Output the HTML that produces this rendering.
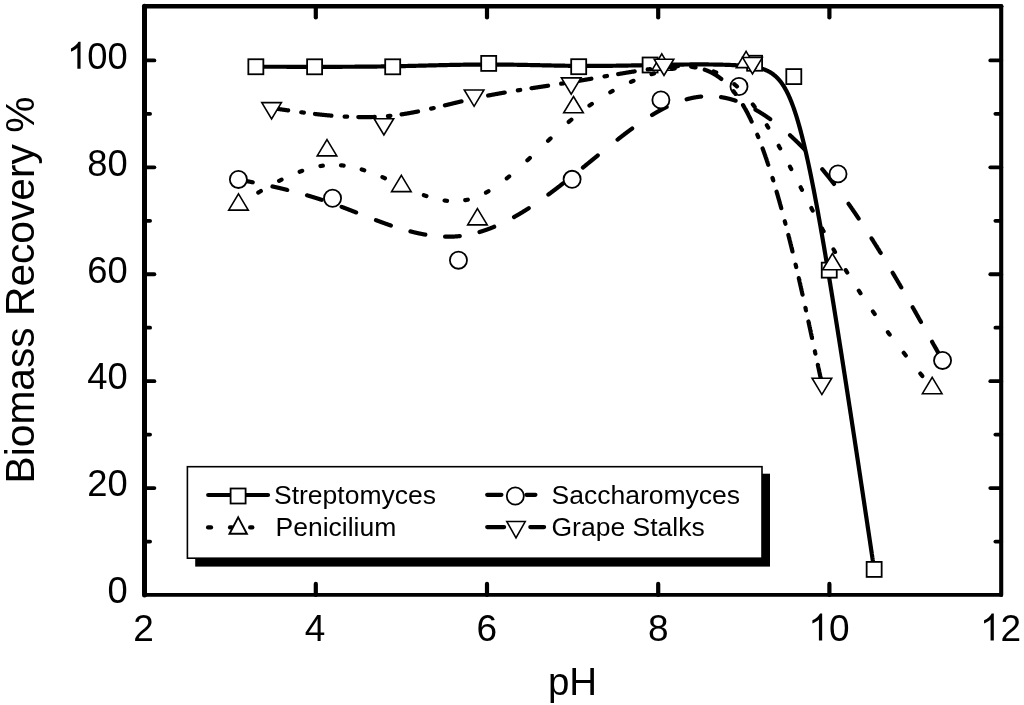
<!DOCTYPE html>
<html><head><meta charset="utf-8"><style>
html,body{margin:0;padding:0;background:#fff;overflow:hidden;}
text{font-family:"Liberation Sans",sans-serif;}
svg{display:block;filter:grayscale(1);}
.mk{fill:#fff;stroke:#000;stroke-width:1.8;stroke-linejoin:miter;}
.tr{stroke-width:1.6;}
</style></head><body>
<svg width="1024" height="705" viewBox="0 0 1024 705">
<rect width="1024" height="705" fill="#fff"/>
<g stroke="#000" stroke-linecap="round" fill="none">
<line x1="144.5" y1="541.54" x2="150.10" y2="541.54" stroke-width="3.8"/>
<line x1="1001.2" y1="541.54" x2="995.40" y2="541.54" stroke-width="3.8"/>
<line x1="144.5" y1="488.08" x2="154.40" y2="488.08" stroke-width="3.8"/>
<line x1="1001.2" y1="488.08" x2="990.30" y2="488.08" stroke-width="3.8"/>
<line x1="144.5" y1="434.62" x2="150.10" y2="434.62" stroke-width="3.8"/>
<line x1="1001.2" y1="434.62" x2="995.40" y2="434.62" stroke-width="3.8"/>
<line x1="144.5" y1="381.16" x2="154.40" y2="381.16" stroke-width="3.8"/>
<line x1="1001.2" y1="381.16" x2="990.30" y2="381.16" stroke-width="3.8"/>
<line x1="144.5" y1="327.70" x2="150.10" y2="327.70" stroke-width="3.8"/>
<line x1="1001.2" y1="327.70" x2="995.40" y2="327.70" stroke-width="3.8"/>
<line x1="144.5" y1="274.24" x2="154.40" y2="274.24" stroke-width="3.8"/>
<line x1="1001.2" y1="274.24" x2="990.30" y2="274.24" stroke-width="3.8"/>
<line x1="144.5" y1="220.78" x2="150.10" y2="220.78" stroke-width="3.8"/>
<line x1="1001.2" y1="220.78" x2="995.40" y2="220.78" stroke-width="3.8"/>
<line x1="144.5" y1="167.32" x2="154.40" y2="167.32" stroke-width="3.8"/>
<line x1="1001.2" y1="167.32" x2="990.30" y2="167.32" stroke-width="3.8"/>
<line x1="144.5" y1="113.86" x2="150.10" y2="113.86" stroke-width="3.8"/>
<line x1="1001.2" y1="113.86" x2="995.40" y2="113.86" stroke-width="3.8"/>
<line x1="144.5" y1="60.40" x2="154.40" y2="60.40" stroke-width="3.8"/>
<line x1="1001.2" y1="60.40" x2="990.30" y2="60.40" stroke-width="3.8"/>
<line x1="315.80" y1="595" x2="315.80" y2="583.90" stroke-width="4.2"/>
<line x1="315.80" y1="6.2" x2="315.80" y2="17.50" stroke-width="4.2"/>
<line x1="487.00" y1="595" x2="487.00" y2="583.90" stroke-width="4.2"/>
<line x1="487.00" y1="6.2" x2="487.00" y2="17.50" stroke-width="4.2"/>
<line x1="658.20" y1="595" x2="658.20" y2="583.90" stroke-width="4.2"/>
<line x1="658.20" y1="6.2" x2="658.20" y2="17.50" stroke-width="4.2"/>
<line x1="829.40" y1="595" x2="829.40" y2="583.90" stroke-width="4.2"/>
<line x1="829.40" y1="6.2" x2="829.40" y2="17.50" stroke-width="4.2"/>
</g>
<g stroke="#000" fill="none" stroke-linecap="round">
<line x1="144.5" y1="6.2" x2="144.5" y2="594.9" stroke-width="5.0"/>
<line x1="1001.2" y1="6.2" x2="1001.2" y2="594.9" stroke-width="4.1"/>
<line x1="144.5" y1="6.15" x2="1001.2" y2="6.15" stroke-width="4.5"/>
<line x1="144.5" y1="594.9" x2="1001.2" y2="594.9" stroke-width="3.8"/>
</g>
<path d="M255.85 66.75L255.85 66.75L255.85 66.75L255.85 66.75L255.85 66.75L255.85 66.75L255.85 66.75L255.85 66.75L255.85 66.75L255.85 66.75L255.85 66.75L255.86 66.75L255.86 66.75L255.86 66.75L255.86 66.75L255.86 66.75L255.87 66.75L255.87 66.75L255.87 66.75L255.88 66.75L255.88 66.75L255.89 66.75L255.89 66.75L255.90 66.75L255.90 66.75L255.91 66.75L255.92 66.75L255.93 66.75L255.94 66.75L255.94 66.75L255.96 66.75L255.97 66.75L255.98 66.75L255.99 66.75L256.00 66.75L256.02 66.75L256.03 66.75L256.05 66.75L256.06 66.75L256.08 66.75L256.10 66.75L256.12 66.75L256.14 66.75L256.16 66.75L256.18 66.75L256.20 66.75L256.23 66.75L256.25 66.75L256.28 66.75L256.31 66.75L256.34 66.75L256.37 66.75L256.40 66.75L256.43 66.75L256.46 66.75L256.50 66.75L256.53 66.75L256.57 66.75L256.61 66.75L256.65 66.75L256.69 66.75L256.73 66.75L256.78 66.75L256.82 66.75L256.87 66.75L256.92 66.75L256.97 66.75L257.02 66.75L257.07 66.75L257.13 66.75L257.19 66.75L257.24 66.75L257.30 66.75L257.36 66.75L257.43 66.75L257.49 66.75L257.56 66.75L257.63 66.75L257.70 66.75L257.77 66.75L257.84 66.75L257.92 66.75L258.00 66.75L258.08 66.75L258.16 66.75L258.24 66.75L258.33 66.75L258.41 66.75L258.50 66.75L258.59 66.75L258.69 66.75L258.78 66.75L258.88 66.75L258.98 66.75L259.08 66.75L259.19 66.75L259.29 66.75L259.40 66.75L259.51 66.75L259.63 66.75L259.74 66.75L259.86 66.75L259.98 66.75L260.10 66.75L260.23 66.75L260.36 66.75L260.49 66.75L260.62 66.75L260.75 66.75L260.89 66.75L261.03 66.75L261.17 66.75L261.32 66.75L261.47 66.75L261.62 66.75L261.77 66.76L261.93 66.76L262.08 66.76L262.25 66.76L262.41 66.76L262.58 66.76L262.75 66.76L262.92 66.76L263.09 66.76L263.27 66.76L263.45 66.76L263.64 66.76L263.82 66.76L264.01 66.76L264.21 66.76L264.40 66.76L264.60 66.76L264.80 66.76L265.01 66.76L265.22 66.76L265.43 66.76L265.64 66.76L265.86 66.76L266.08 66.76L266.30 66.76L266.53 66.76L266.76 66.76L266.99 66.76L267.23 66.76L267.47 66.76L267.71 66.76L267.96 66.76L268.21 66.76L268.46 66.76L268.71 66.76L268.97 66.76L269.23 66.76L269.49 66.76L269.76 66.76L270.03 66.76L270.30 66.76L270.58 66.76L270.85 66.76L271.13 66.76L271.42 66.76L271.70 66.76L271.99 66.76L272.29 66.76L272.58 66.76L272.88 66.76L273.18 66.76L273.48 66.76L273.79 66.77L274.09 66.77L274.41 66.77L274.72 66.77L275.04 66.77L275.35 66.77L275.68 66.77L276.00 66.77L276.33 66.77L276.66 66.77L276.99 66.77L277.32 66.77L277.66 66.77L278.00 66.77L278.34 66.77L278.68 66.77L279.03 66.77L279.38 66.77L279.73 66.77L280.09 66.77L280.44 66.77L280.80 66.77L281.16 66.77L281.53 66.77L281.89 66.77L282.26 66.77L282.63 66.77L283.00 66.77L283.38 66.77L283.75 66.77L284.13 66.77L284.52 66.77L284.90 66.77L285.29 66.77L285.67 66.77L286.06 66.77L286.46 66.77L286.85 66.78L287.25 66.78L287.65 66.78L288.05 66.78L288.45 66.78L288.86 66.78L289.26 66.78L289.67 66.78L290.08 66.78L290.50 66.78L290.91 66.78L291.33 66.78L291.75 66.78L292.17 66.78L292.59 66.78L293.02 66.78L293.44 66.78L293.87 66.78L294.30 66.78L294.73 66.78L295.17 66.78L295.60 66.78L296.04 66.78L296.48 66.78L296.92 66.78L297.37 66.78L297.81 66.78L298.26 66.78L298.70 66.78L299.15 66.78L299.60 66.78L300.06 66.78L300.51 66.78L300.97 66.78L301.43 66.78L301.89 66.78L302.35 66.78L302.81 66.78L303.27 66.79L303.74 66.79L304.20 66.79L304.67 66.79L305.14 66.79L305.61 66.79L306.09 66.79L306.56 66.79L307.04 66.79L307.51 66.79L307.99 66.79L308.47 66.79L308.95 66.79L309.44 66.79L309.92 66.79L310.40 66.79L310.89 66.79L311.38 66.79L311.87 66.79L312.36 66.79L312.85 66.79L313.34 66.79L313.83 66.79L314.33 66.79L314.83 66.79L315.32 66.79L315.82 66.79L316.32 66.79L316.82 66.79L317.32 66.79L317.82 66.79L318.33 66.79L318.83 66.79L319.34 66.79L319.85 66.79L320.35 66.79L320.86 66.79L321.37 66.79L321.88 66.79L322.40 66.79L322.91 66.79L323.42 66.79L323.94 66.79L324.45 66.79L324.97 66.79L325.49 66.79L326.01 66.79L326.53 66.79L327.05 66.79L327.57 66.79L328.10 66.79L328.62 66.79L329.15 66.79L329.67 66.79L330.20 66.79L330.73 66.79L331.26 66.79L331.79 66.79L332.32 66.79L332.85 66.79L333.39 66.79L333.92 66.79L334.46 66.79L334.99 66.79L335.53 66.79L336.07 66.79L336.61 66.79L337.15 66.79L337.69 66.78L338.24 66.78L338.78 66.78L339.33 66.78L339.87 66.78L340.42 66.78L340.97 66.78L341.52 66.78L342.07 66.78L342.62 66.77L343.17 66.77L343.72 66.77L344.28 66.77L344.83 66.77L345.39 66.77L345.95 66.76L346.50 66.76L347.06 66.76L347.62 66.76L348.18 66.76L348.75 66.75L349.31 66.75L349.87 66.75L350.44 66.75L351.01 66.74L351.57 66.74L352.14 66.74L352.71 66.74L353.28 66.73L353.85 66.73L354.43 66.73L355.00 66.72L355.57 66.72L356.15 66.72L356.73 66.72L357.30 66.71L357.88 66.71L358.46 66.70L359.04 66.70L359.62 66.70L360.21 66.69L360.79 66.69L361.37 66.68L361.96 66.68L362.55 66.68L363.13 66.67L363.72 66.67L364.31 66.66L364.90 66.66L365.49 66.65L366.09 66.65L366.68 66.64L367.27 66.64L367.87 66.63L368.47 66.62L369.06 66.62L369.66 66.61L370.26 66.61L370.86 66.60L371.46 66.59L372.06 66.59L372.67 66.58L373.27 66.57L373.88 66.57L374.48 66.56L375.09 66.55L375.70 66.55L376.31 66.54L376.92 66.53L377.53 66.52L378.14 66.52L378.76 66.51L379.37 66.50L379.99 66.49L380.60 66.48L381.22 66.47L381.84 66.47L382.46 66.46L383.08 66.45L383.70 66.44L384.32 66.43L384.94 66.42L385.57 66.41L386.19 66.40L386.82 66.39L387.44 66.38L388.07 66.37L388.70 66.36L389.33 66.35L389.96 66.34L390.59 66.33L391.23 66.32L391.86 66.31L392.50 66.29L393.13 66.28L393.77 66.27L394.41 66.26L395.04 66.25L395.68 66.23L396.32 66.22L396.97 66.21L397.61 66.20L398.25 66.18L398.90 66.17L399.54 66.16L400.19 66.14L400.83 66.13L401.48 66.11L402.13 66.10L402.78 66.09L403.43 66.07L404.08 66.06L404.73 66.04L405.39 66.03L406.04 66.01L406.70 66.00L407.35 65.98L408.01 65.97L408.67 65.95L409.32 65.94L409.98 65.92L410.64 65.91L411.30 65.89L411.96 65.87L412.62 65.86L413.29 65.84L413.95 65.83L414.61 65.81L415.28 65.79L415.94 65.78L416.61 65.76L417.28 65.74L417.94 65.73L418.61 65.71L419.28 65.70L419.95 65.68L420.62 65.66L421.29 65.65L421.96 65.63L422.63 65.61L423.30 65.60L423.98 65.58L424.65 65.56L425.32 65.55L426.00 65.53L426.67 65.51L427.35 65.50L428.02 65.48L428.70 65.46L429.38 65.45L430.05 65.43L430.73 65.41L431.41 65.40L432.09 65.38L432.77 65.36L433.45 65.35L434.13 65.33L434.81 65.31L435.49 65.30L436.17 65.28L436.85 65.26L437.53 65.25L438.21 65.23L438.90 65.22L439.58 65.20L440.26 65.18L440.95 65.17L441.63 65.15L442.32 65.14L443.00 65.12L443.69 65.11L444.37 65.09L445.06 65.08L445.74 65.06L446.43 65.05L447.12 65.03L447.80 65.02L448.49 65.00L449.18 64.99L449.86 64.97L450.55 64.96L451.24 64.95L451.93 64.93L452.61 64.92L453.30 64.90L453.99 64.89L454.68 64.88L455.37 64.86L456.06 64.85L456.74 64.84L457.43 64.83L458.12 64.81L458.81 64.80L459.50 64.79L460.19 64.78L460.88 64.77L461.57 64.76L462.26 64.74L462.95 64.73L463.64 64.72L464.32 64.71L465.01 64.70L465.70 64.69L466.39 64.68L467.08 64.67L467.77 64.66L468.46 64.65L469.15 64.65L469.84 64.64L470.53 64.63L471.22 64.62L471.91 64.61L472.59 64.61L473.28 64.60L473.97 64.59L474.66 64.58L475.35 64.58L476.04 64.57L476.72 64.57L477.41 64.56L478.10 64.56L478.79 64.55L479.47 64.55L480.16 64.54L480.85 64.54L481.53 64.53L482.22 64.53L482.91 64.53L483.59 64.53L484.28 64.52L484.96 64.52L485.65 64.52L486.33 64.52L487.02 64.52L487.70 64.52L488.38 64.52L489.07 64.52L489.75 64.52L490.43 64.52L491.11 64.52L491.80 64.52L492.48 64.52L493.16 64.52L493.84 64.53L494.52 64.53L495.20 64.53L495.88 64.54L496.56 64.54L497.24 64.54L497.92 64.55L498.60 64.55L499.27 64.56L499.95 64.56L500.63 64.57L501.30 64.58L501.98 64.58L502.66 64.59L503.33 64.59L504.01 64.60L504.68 64.61L505.36 64.62L506.03 64.62L506.70 64.63L507.37 64.64L508.05 64.65L508.72 64.66L509.39 64.66L510.06 64.67L510.73 64.68L511.40 64.69L512.07 64.70L512.74 64.71L513.41 64.72L514.07 64.73L514.74 64.74L515.41 64.75L516.07 64.76L516.74 64.77L517.40 64.79L518.07 64.80L518.73 64.81L519.39 64.82L520.06 64.83L520.72 64.84L521.38 64.85L522.04 64.87L522.70 64.88L523.36 64.89L524.02 64.90L524.68 64.92L525.34 64.93L526.00 64.94L526.65 64.95L527.31 64.97L527.97 64.98L528.62 64.99L529.27 65.01L529.93 65.02L530.58 65.03L531.23 65.05L531.89 65.06L532.54 65.07L533.19 65.09L533.84 65.10L534.49 65.11L535.14 65.13L535.78 65.14L536.43 65.15L537.08 65.17L537.72 65.18L538.37 65.19L539.01 65.21L539.66 65.22L540.30 65.24L540.94 65.25L541.58 65.26L542.22 65.28L542.86 65.29L543.50 65.30L544.14 65.32L544.78 65.33L545.42 65.35L546.05 65.36L546.69 65.37L547.32 65.39L547.96 65.40L548.59 65.41L549.22 65.43L549.85 65.44L550.48 65.45L551.11 65.46L551.74 65.48L552.37 65.49L553.00 65.50L553.63 65.52L554.25 65.53L554.88 65.54L555.50 65.55L556.12 65.57L556.75 65.58L557.37 65.59L557.99 65.60L558.61 65.61L559.23 65.62L559.85 65.64L560.46 65.65L561.08 65.66L561.70 65.67L562.31 65.68L562.92 65.69L563.54 65.70L564.15 65.71L564.76 65.72L565.37 65.73L565.98 65.74L566.59 65.75L567.20 65.76L567.80 65.77L568.41 65.78L569.01 65.79L569.62 65.80L570.22 65.80L570.82 65.81L571.42 65.82L572.02 65.83L572.62 65.83L573.22 65.84L573.82 65.85L574.41 65.85L575.01 65.86L575.60 65.87L576.19 65.87L576.78 65.88L577.38 65.88L577.97 65.89L578.55 65.89L579.14 65.90L579.73 65.90L580.32 65.91L580.90 65.91L581.49 65.91L582.07 65.92L582.65 65.92L583.24 65.92L583.82 65.92L584.40 65.93L584.98 65.93L585.56 65.93L586.14 65.93L586.72 65.93L587.29 65.93L587.87 65.93L588.45 65.93L589.02 65.93L589.60 65.93L590.17 65.93L590.75 65.93L591.32 65.93L591.90 65.93L592.47 65.93L593.04 65.93L593.61 65.93L594.19 65.93L594.76 65.93L595.33 65.92L595.90 65.92L596.47 65.92L597.04 65.92L597.61 65.91L598.18 65.91L598.75 65.91L599.32 65.90L599.89 65.90L600.46 65.90L601.03 65.89L601.60 65.89L602.17 65.88L602.73 65.88L603.30 65.87L603.87 65.87L604.44 65.86L605.01 65.86L605.58 65.85L606.15 65.85L606.72 65.84L607.28 65.84L607.85 65.83L608.42 65.82L608.99 65.82L609.56 65.81L610.13 65.80L610.70 65.80L611.27 65.79L611.84 65.78L612.41 65.78L612.99 65.77L613.56 65.76L614.13 65.75L614.70 65.74L615.27 65.74L615.85 65.73L616.42 65.72L617.00 65.71L617.57 65.70L618.14 65.69L618.72 65.69L619.30 65.68L619.87 65.67L620.45 65.66L621.03 65.65L621.61 65.64L622.19 65.63L622.77 65.62L623.35 65.61L623.93 65.60L624.51 65.59L625.09 65.58L625.67 65.57L626.26 65.56L626.84 65.55L627.43 65.54L628.02 65.53L628.60 65.52L629.19 65.51L629.78 65.50L630.37 65.49L630.96 65.48L631.55 65.46L632.15 65.45L632.74 65.44L633.34 65.43L633.93 65.42L634.53 65.41L635.13 65.40L635.73 65.39L636.33 65.37L636.93 65.36L637.53 65.35L638.14 65.34L638.74 65.33L639.35 65.31L639.96 65.30L640.56 65.29L641.17 65.28L641.79 65.27L642.40 65.25L643.01 65.24L643.63 65.23L644.25 65.22L644.86 65.21L645.48 65.19L646.11 65.18L646.73 65.17L647.35 65.16L647.98 65.14L648.61 65.13L649.24 65.12L649.87 65.11L650.50 65.09L651.13 65.08L651.77 65.07L652.41 65.06L653.04 65.04L653.68 65.03L654.33 65.02L654.97 65.00L655.62 64.99L656.26 64.98L656.91 64.97L657.56 64.95L658.22 64.94L658.87 64.93L659.53 64.92L660.19 64.90L660.84 64.89L661.50 64.88L662.17 64.87L662.83 64.85L663.49 64.84L664.16 64.83L664.83 64.82L665.50 64.80L666.17 64.79L666.84 64.78L667.51 64.77L668.18 64.76L668.86 64.75L669.53 64.73L670.21 64.72L670.88 64.71L671.56 64.70L672.24 64.69L672.92 64.68L673.60 64.67L674.28 64.66L674.96 64.65L675.65 64.64L676.33 64.63L677.01 64.62L677.70 64.61L678.38 64.60L679.07 64.59L679.75 64.58L680.44 64.57L681.13 64.56L681.81 64.55L682.50 64.55L683.19 64.54L683.87 64.53L684.56 64.52L685.25 64.52L685.94 64.51L686.62 64.50L687.31 64.50L688.00 64.49L688.69 64.49L689.37 64.48L690.06 64.47L690.75 64.47L691.43 64.47L692.12 64.46L692.81 64.46L693.49 64.45L694.18 64.45L694.86 64.45L695.55 64.44L696.23 64.44L696.91 64.44L697.60 64.44L698.28 64.44L698.96 64.44L699.64 64.44L700.32 64.44L701.00 64.44L701.68 64.44L702.36 64.44L703.03 64.44L703.71 64.44L704.38 64.45L705.06 64.45L705.73 64.45L706.40 64.46L707.07 64.46L707.74 64.47L708.41 64.47L709.08 64.48L709.74 64.48L710.40 64.49L711.07 64.50L711.73 64.50L712.39 64.51L713.05 64.52L713.70 64.53L714.36 64.54L715.01 64.55L715.66 64.56L716.31 64.57L716.96 64.58L717.61 64.59L718.25 64.61L718.90 64.62L719.54 64.64L720.18 64.65L720.81 64.66L721.45 64.68L722.08 64.70L722.71 64.71L723.34 64.73L723.97 64.75L724.59 64.77L725.22 64.79L725.84 64.81L726.45 64.83L727.07 64.85L727.68 64.87L728.29 64.89L728.90 64.92L729.51 64.94L730.11 64.96L730.71 64.99L731.31 65.02L731.90 65.04L732.50 65.07L733.09 65.10L733.67 65.13L734.26 65.15L734.84 65.18L735.42 65.22L735.99 65.25L736.56 65.28L737.13 65.31L737.70 65.35L738.26 65.38L738.82 65.42L739.38 65.45L739.93 65.49L740.48 65.53L741.03 65.56L741.58 65.60L742.12 65.64L742.65 65.68L743.19 65.72L743.72 65.77L744.24 65.81L744.77 65.85L745.29 65.90L745.80 65.94L746.31 65.99L746.82 66.04L747.33 66.09L747.83 66.14L748.33 66.19L748.83 66.24L749.32 66.30L749.81 66.36L750.30 66.41L750.78 66.47L751.26 66.54L751.73 66.60L752.21 66.66L752.68 66.73L753.15 66.80L753.61 66.87L754.07 66.94L754.53 67.02L754.98 67.10L755.44 67.18L755.88 67.26L756.33 67.34L756.77 67.43L757.21 67.52L757.65 67.61L758.09 67.71L758.52 67.81L758.95 67.91L759.38 68.01L759.80 68.12L760.22 68.23L760.64 68.34L761.05 68.46L761.47 68.58L761.88 68.70L762.29 68.83L762.69 68.96L763.09 69.09L763.49 69.22L763.89 69.37L764.29 69.51L764.68 69.66L765.07 69.81L765.46 69.96L765.85 70.12L766.23 70.29L766.61 70.45L766.99 70.63L767.37 70.80L767.74 70.98L768.11 71.17L768.48 71.36L768.85 71.55L769.22 71.75L769.58 71.95L769.94 72.16L770.30 72.37L770.66 72.59L771.01 72.81L771.37 73.04L771.72 73.27L772.07 73.50L772.42 73.75L772.76 73.99L773.11 74.25L773.45 74.50L773.79 74.77L774.13 75.04L774.46 75.31L774.80 75.59L775.13 75.88L775.46 76.17L775.79 76.46L776.12 76.77L776.45 77.08L776.77 77.39L777.10 77.71L777.42 78.04L777.74 78.37L778.06 78.71L778.37 79.06L778.69 79.41L779.00 79.77L779.32 80.14L779.63 80.51L779.94 80.89L780.25 81.27L780.56 81.66L780.86 82.06L781.17 82.47L781.47 82.88L781.77 83.30L782.08 83.73L782.38 84.16L782.68 84.60L782.97 85.05L783.27 85.51L783.57 85.97L783.86 86.44L784.16 86.92L784.45 87.41L784.74 87.90L785.03 88.40L785.32 88.91L785.61 89.43L785.90 89.96L786.19 90.49L786.47 91.03L786.76 91.58L787.04 92.14L787.33 92.71L787.61 93.28L787.90 93.86L788.18 94.46L788.46 95.06L788.74 95.66L789.02 96.28L789.30 96.91L789.58 97.54L789.86 98.19L790.14 98.84L790.42 99.50L790.69 100.17L790.97 100.85L791.25 101.54L791.52 102.24L791.80 102.95L792.08 103.67L792.35 104.39L792.63 105.13L792.90 105.88L793.17 106.63L793.45 107.40L793.72 108.17L794.00 108.96L794.27 109.75L794.54 110.56L794.82 111.37L795.09 112.19L795.36 113.03L795.64 113.87L795.91 114.72L796.18 115.58L796.46 116.45L796.73 117.33L797.00 118.22L797.27 119.12L797.54 120.03L797.82 120.95L798.09 121.87L798.36 122.81L798.63 123.76L798.90 124.71L799.17 125.67L799.44 126.65L799.72 127.63L799.99 128.62L800.26 129.62L800.53 130.63L800.80 131.64L801.07 132.67L801.34 133.70L801.61 134.75L801.88 135.80L802.15 136.86L802.42 137.93L802.69 139.01L802.96 140.10L803.24 141.20L803.51 142.30L803.78 143.42L804.05 144.54L804.32 145.67L804.59 146.81L804.86 147.96L805.13 149.11L805.40 150.28L805.67 151.45L805.94 152.63L806.21 153.82L806.48 155.02L806.75 156.23L807.02 157.44L807.30 158.67L807.57 159.90L807.84 161.14L808.11 162.38L808.38 163.64L808.65 164.90L808.92 166.18L809.19 167.46L809.47 168.74L809.74 170.04L810.01 171.34L810.28 172.66L810.55 173.97L810.83 175.30L811.10 176.64L811.37 177.98L811.64 179.33L811.92 180.69L812.19 182.06L812.46 183.43L812.74 184.81L813.01 186.20L813.28 187.60L813.56 189.00L813.83 190.41L814.11 191.83L814.38 193.26L814.65 194.69L814.93 196.14L815.21 197.58L815.48 199.04L815.76 200.50L816.03 201.98L816.31 203.45L816.58 204.94L816.86 206.43L817.14 207.93L817.41 209.44L817.69 210.95L817.97 212.47L818.25 214.00L818.53 215.54L818.80 217.08L819.08 218.63L819.36 220.18L819.64 221.75L819.92 223.32L820.20 224.89L820.48 226.48L820.76 228.07L821.04 229.66L821.32 231.27L821.60 232.88L821.89 234.49L822.17 236.12L822.45 237.75L822.73 239.39L823.02 241.03L823.30 242.68L823.59 244.34L823.87 246.00L824.16 247.67L824.44 249.34L824.73 251.03L825.01 252.71L825.30 254.41L825.59 256.11L825.87 257.82L826.16 259.53L826.45 261.25L826.74 262.98L827.03 264.71L827.32 266.45L827.61 268.19L827.90 269.94L828.19 271.70L828.48 273.46L828.77 275.23L829.06 277.00L829.35 278.78L829.65 280.57L829.94 282.36L830.24 284.15L830.53 285.96L830.82 287.77L831.12 289.58L831.42 291.40L831.71 293.23L832.01 295.06L832.31 296.89L832.61 298.73L832.90 300.58L833.20 302.43L833.50 304.28L833.80 306.14L834.10 308.01L834.40 309.87L834.70 311.74L835.00 313.62L835.30 315.50L835.60 317.38L835.90 319.26L836.20 321.15L836.51 323.04L836.81 324.93L837.11 326.83L837.41 328.72L837.71 330.62L838.01 332.52L838.31 334.43L838.61 336.33L838.92 338.24L839.22 340.15L839.52 342.06L839.82 343.97L840.12 345.88L840.42 347.79L840.72 349.70L841.02 351.62L841.32 353.53L841.62 355.44L841.92 357.35L842.22 359.27L842.52 361.18L842.82 363.09L843.12 365.00L843.42 366.91L843.71 368.82L844.01 370.73L844.31 372.64L844.60 374.54L844.90 376.45L845.19 378.35L845.49 380.25L845.78 382.14L846.08 384.04L846.37 385.93L846.66 387.82L846.95 389.71L847.25 391.59L847.54 393.47L847.83 395.35L848.12 397.23L848.40 399.10L848.69 400.96L848.98 402.83L849.26 404.69L849.55 406.54L849.83 408.39L850.12 410.24L850.40 412.08L850.68 413.91L850.96 415.74L851.24 417.57L851.52 419.39L851.80 421.20L852.07 423.01L852.35 424.81L852.62 426.61L852.90 428.40L853.17 430.19L853.44 431.96L853.71 433.74L853.98 435.50L854.25 437.26L854.52 439.01L854.78 440.75L855.04 442.49L855.31 444.21L855.57 445.93L855.83 447.65L856.09 449.35L856.34 451.05L856.60 452.73L856.86 454.41L857.11 456.08L857.36 457.74L857.61 459.39L857.86 461.04L858.11 462.67L858.35 464.29L858.60 465.91L858.84 467.51L859.08 469.10L859.32 470.69L859.56 472.26L859.79 473.82L860.03 475.37L860.26 476.91L860.49 478.44L860.72 479.96L860.95 481.47L861.17 482.97L861.40 484.45L861.62 485.92L861.84 487.38L862.06 488.83L862.27 490.27L862.49 491.69L862.70 493.10L862.91 494.50L863.12 495.89L863.32 497.26L863.53 498.62L863.73 499.96L863.93 501.29L864.13 502.61L864.32 503.91L864.52 505.20L864.71 506.48L864.90 507.74L865.09 508.99L865.27 510.22L865.45 511.44L865.63 512.64L865.81 513.83L865.99 515.00L866.16 516.15L866.33 517.29L866.50 518.42L866.67 519.52L866.83 520.62L866.99 521.69L867.15 522.75L867.31 523.80L867.46 524.83L867.61 525.84L867.76 526.84L867.91 527.82L868.06 528.79L868.20 529.74L868.34 530.67L868.48 531.60L868.61 532.50L868.75 533.40L868.88 534.27L869.01 535.14L869.14 535.99L869.26 536.82L869.39 537.64L869.51 538.45L869.63 539.24L869.74 540.02L869.86 540.79L869.97 541.54L870.08 542.28L870.19 543.01L870.30 543.72L870.40 544.42L870.51 545.11L870.61 545.79L870.71 546.45L870.80 547.10L870.90 547.73L870.99 548.36L871.08 548.97L871.18 549.57L871.26 550.16L871.35 550.74L871.43 551.30L871.52 551.86L871.60 552.40L871.68 552.93L871.76 553.45L871.83 553.96L871.91 554.46L871.98 554.95L872.05 555.42L872.12 555.89L872.19 556.34L872.26 556.79L872.32 557.22L872.39 557.65L872.45 558.06L872.51 558.47L872.57 558.86L872.63 559.25L872.68 559.62L872.74 559.99L872.79 560.35L872.84 560.70L872.89 561.04L872.94 561.37L872.99 561.69L873.04 562.00L873.09 562.30L873.13 562.60L873.17 562.89L873.21 563.17L873.26 563.44L873.29 563.70L873.33 563.95L873.37 564.20L873.41 564.44L873.44 564.67L873.47 564.90L873.51 565.12L873.54 565.33L873.57 565.53L873.60 565.73L873.63 565.92L873.66 566.10L873.68 566.28L873.71 566.45L873.73 566.61L873.76 566.77L873.78 566.92L873.80 567.07L873.82 567.21L873.84 567.34L873.86 567.47L873.88 567.59L873.90 567.71L873.91 567.82L873.93 567.93L873.94 568.03L873.96 568.13L873.97 568.22L873.99 568.31L874.00 568.40L874.01 568.47L874.02 568.55L874.03 568.62L874.04 568.69L874.05 568.75L874.06 568.81L874.07 568.86L874.08 568.92L874.08 568.96L874.09 569.01L874.10 569.05L874.10 569.09L874.11 569.13L874.11 569.16L874.12 569.19L874.12 569.22L874.13 569.24L874.13 569.26L874.13 569.28L874.14 569.30L874.14 569.32L874.14 569.33L874.14 569.35L874.14 569.36L874.14 569.37L874.15 569.37L874.15 569.38L874.15 569.39L874.15 569.39L874.15 569.39L874.15 569.40L874.15 569.40L874.15 569.40L874.15 569.40L874.15 569.40L874.15 569.40L874.15 569.40" fill="none" stroke="#000" stroke-width="4.2" stroke-linecap="round" stroke-linejoin="round"/>
<g><rect x="248.35" y="59.25" width="15.00" height="15.00" class="mk"/><rect x="307.10" y="59.30" width="15.00" height="15.00" class="mk"/><rect x="385.20" y="59.30" width="15.00" height="15.00" class="mk"/><rect x="481.20" y="55.90" width="15.00" height="15.00" class="mk"/><rect x="571.20" y="59.20" width="15.00" height="15.00" class="mk"/><rect x="642.60" y="57.50" width="15.00" height="15.00" class="mk"/><rect x="747.10" y="55.75" width="15.00" height="15.00" class="mk"/><rect x="786.30" y="69.10" width="15.00" height="15.00" class="mk"/><rect x="821.75" y="262.65" width="15.00" height="15.00" class="mk"/><rect x="866.65" y="561.90" width="15.00" height="15.00" class="mk"/></g>
<path d="M238.40 179.45L238.40 179.45L238.40 179.45L238.40 179.45L238.40 179.45L238.40 179.45L238.40 179.45L238.40 179.45L238.40 179.45L238.40 179.45L238.40 179.45L238.40 179.45L238.41 179.45L238.41 179.45L238.41 179.45L238.41 179.45L238.41 179.45L238.42 179.45L238.42 179.45L238.42 179.45L238.43 179.46L238.43 179.46L238.44 179.46L238.44 179.46L238.45 179.46L238.45 179.46L238.46 179.46L238.47 179.46L238.48 179.47L238.48 179.47L238.49 179.47L238.50 179.47L238.51 179.47L238.52 179.47L238.53 179.48L238.55 179.48L238.56 179.48L238.57 179.48L238.59 179.49L238.60 179.49L238.62 179.49L238.64 179.50L238.65 179.50L238.67 179.50L238.69 179.51L238.71 179.51L238.73 179.52L238.76 179.52L238.78 179.53L238.80 179.53L238.83 179.54L238.86 179.54L238.88 179.55L238.91 179.55L238.94 179.56L238.97 179.56L239.00 179.57L239.04 179.58L239.07 179.58L239.10 179.59L239.14 179.60L239.18 179.61L239.22 179.61L239.26 179.62L239.30 179.63L239.34 179.64L239.39 179.65L239.43 179.66L239.48 179.67L239.53 179.68L239.58 179.68L239.63 179.70L239.68 179.71L239.73 179.72L239.79 179.73L239.85 179.74L239.91 179.75L239.97 179.76L240.03 179.78L240.09 179.79L240.16 179.80L240.22 179.81L240.29 179.83L240.36 179.84L240.43 179.86L240.51 179.87L240.58 179.89L240.66 179.90L240.74 179.92L240.82 179.93L240.90 179.95L240.99 179.97L241.07 179.98L241.16 180.00L241.25 180.02L241.34 180.04L241.43 180.06L241.53 180.08L241.63 180.09L241.73 180.11L241.83 180.13L241.93 180.16L242.04 180.18L242.15 180.20L242.26 180.22L242.37 180.24L242.49 180.27L242.60 180.29L242.72 180.31L242.84 180.34L242.97 180.36L243.09 180.39L243.22 180.41L243.35 180.44L243.48 180.46L243.62 180.49L243.75 180.52L243.89 180.55L244.04 180.58L244.18 180.60L244.33 180.63L244.48 180.66L244.63 180.69L244.78 180.72L244.94 180.76L245.10 180.79L245.26 180.82L245.43 180.85L245.59 180.89L245.76 180.92L245.94 180.95L246.11 180.99L246.29 181.03L246.47 181.06L246.65 181.10L246.84 181.14L247.03 181.17L247.22 181.21L247.42 181.25L247.61 181.29L247.81 181.33L248.02 181.37L248.22 181.41L248.43 181.45L248.64 181.50L248.86 181.54L249.08 181.58L249.30 181.63L249.52 181.67L249.75 181.72L249.98 181.76L250.21 181.81L250.45 181.86L250.69 181.90L250.93 181.95L251.17 182.00L251.42 182.05L251.55 182.08L251.68 182.10L251.80 182.13L251.93 182.15L252.06 182.18L252.19 182.20L252.32 182.23L252.45 182.26L252.58 182.28L252.72 182.31M272.48 186.43L272.70 186.48L272.92 186.53L273.14 186.58L273.36 186.62L273.58 186.67L273.81 186.73L274.03 186.78L274.25 186.83L274.48 186.88L274.70 186.93L274.93 186.98L275.16 187.03L275.39 187.08L275.61 187.14L275.84 187.19L276.07 187.24L276.30 187.29L276.53 187.35L276.77 187.40L277.00 187.45L277.23 187.51L277.46 187.56L277.70 187.62L277.93 187.67L278.17 187.73L278.41 187.78L278.64 187.84L278.88 187.89L279.12 187.95L279.36 188.01L279.60 188.06L279.84 188.12L280.08 188.18L280.32 188.23L280.56 188.29L280.80 188.35L281.05 188.41L281.29 188.46L281.53 188.52L281.78 188.58L282.02 188.64L282.27 188.70L282.52 188.76L282.76 188.82L283.01 188.88L283.26 188.94L283.51 189.00L283.68 189.04L283.84 189.08L284.01 189.12L284.18 189.16L284.35 189.21L284.51 189.25L284.68 189.29L284.85 189.33L285.02 189.37L285.19 189.41L285.36 189.45L285.53 189.50L285.70 189.54L285.87 189.58L286.04 189.62L286.21 189.67L286.38 189.71L286.55 189.75L286.72 189.79L286.89 189.84L287.06 189.88L287.23 189.92M307.02 195.30L307.21 195.36L307.41 195.41L307.61 195.47L307.80 195.53L308.00 195.59L308.20 195.65L308.40 195.71L308.59 195.77L308.79 195.82L308.99 195.88L309.19 195.94L309.39 196.00L309.59 196.06L309.79 196.12L309.99 196.18L310.19 196.24L310.39 196.30L310.59 196.36L310.79 196.42L310.99 196.48L311.19 196.54L311.39 196.60L311.59 196.66L311.79 196.72L311.99 196.79L312.20 196.85L312.40 196.91L312.60 196.97L312.80 197.03L313.00 197.09L313.21 197.16L313.41 197.22L313.61 197.28L313.82 197.34L314.02 197.41L314.22 197.47L314.43 197.53L314.63 197.60L314.83 197.66L315.04 197.72L315.24 197.79L315.45 197.85L315.65 197.91L315.86 197.98L316.06 198.04L316.27 198.11L316.47 198.17L316.68 198.24L316.88 198.30L317.09 198.37L317.30 198.43L317.50 198.50L317.71 198.56L317.92 198.63L318.12 198.69L318.33 198.76L318.54 198.83L318.75 198.89L318.95 198.96L319.16 199.03L319.37 199.09L319.58 199.16L319.78 199.23L319.99 199.29L320.20 199.36L320.41 199.43L320.62 199.50L320.83 199.56L321.04 199.63L321.25 199.70L321.46 199.77L321.67 199.84M341.62 206.84L341.84 206.93L342.06 207.01L342.29 207.10L342.51 207.18L342.73 207.26L342.96 207.35L343.18 207.43L343.40 207.52L343.63 207.60L343.85 207.69L344.08 207.77L344.30 207.86L344.53 207.95L344.75 208.03L344.98 208.12L345.20 208.20L345.43 208.29L345.65 208.38L345.88 208.46L346.10 208.55L346.33 208.63L346.55 208.72L346.78 208.81L347.00 208.89L347.23 208.98L347.46 209.07L347.68 209.16L347.91 209.24L348.13 209.33L348.36 209.42L348.59 209.51L348.81 209.59L349.04 209.68L349.27 209.77L349.50 209.86L349.72 209.95L349.95 210.03L350.18 210.12L350.40 210.21L350.63 210.30L350.86 210.39L351.09 210.48L351.32 210.57L351.54 210.65L351.77 210.74L352.00 210.83L352.23 210.92L352.46 211.01L352.69 211.10L352.91 211.19L353.14 211.28L353.37 211.37L353.60 211.46L353.83 211.55L354.06 211.64L354.29 211.73L354.52 211.82L354.75 211.91L354.98 212.00L355.21 212.09L355.44 212.18L355.67 212.27L355.90 212.36L356.13 212.45M376.01 220.15L376.25 220.24L376.48 220.33L376.72 220.42L376.96 220.51L377.20 220.59L377.43 220.68L377.67 220.77L377.91 220.86L378.15 220.95L378.39 221.04L378.62 221.13L378.86 221.21L379.10 221.30L379.34 221.39L379.58 221.48L379.81 221.57L380.05 221.65L380.29 221.74L380.53 221.83L380.77 221.92L381.01 222.00L381.25 222.09L381.48 222.18L381.72 222.26L381.96 222.35L382.20 222.44L382.44 222.52L382.68 222.61L382.92 222.70L383.16 222.78L383.40 222.87L383.64 222.96L383.87 223.04L384.11 223.13L384.35 223.21L384.59 223.30L384.83 223.38L385.07 223.47L385.31 223.56L385.55 223.64L385.79 223.73L386.03 223.81L386.27 223.89L386.51 223.98L386.75 224.06L386.99 224.15L387.23 224.23L387.47 224.32L387.71 224.40L387.95 224.48L388.19 224.57L388.43 224.65L388.67 224.73L388.91 224.82L389.15 224.90L389.39 224.98L389.63 225.06L389.88 225.15L390.12 225.23L390.36 225.31L390.60 225.39L390.84 225.47M410.47 231.39L410.71 231.46L410.96 231.52L411.20 231.58L411.44 231.64L411.69 231.71L411.93 231.77L412.18 231.83L412.42 231.89L412.66 231.95L412.91 232.01L413.15 232.07L413.39 232.13L413.64 232.19L413.88 232.25L414.12 232.31L414.37 232.36L414.61 232.42L414.86 232.48L415.10 232.54L415.34 232.59L415.59 232.65L415.83 232.71L416.07 232.76L416.32 232.82L416.56 232.87L416.81 232.93L417.05 232.98L417.29 233.04L417.54 233.09L417.78 233.14L418.03 233.20L418.27 233.25L418.51 233.30L418.76 233.36L419.00 233.41L419.24 233.46L419.49 233.51L419.73 233.56L419.98 233.61L420.22 233.66L420.46 233.71L420.71 233.76L420.95 233.81L421.20 233.86L421.44 233.91L421.68 233.96L421.93 234.00L422.17 234.05L422.42 234.10L422.66 234.15L422.90 234.19L423.15 234.24L423.39 234.28L423.64 234.33L423.88 234.37L424.12 234.42L424.37 234.46L424.61 234.51L424.85 234.55L425.10 234.59L425.34 234.63M445.06 236.68L445.30 236.68L445.54 236.69L445.78 236.69L446.03 236.70L446.27 236.70L446.51 236.70L446.75 236.71L446.99 236.71L447.24 236.71L447.48 236.71L447.72 236.72L447.96 236.72L448.20 236.71L448.45 236.71L448.69 236.71L448.93 236.71L449.17 236.71L449.41 236.71L449.66 236.70L449.90 236.70L450.14 236.70L450.38 236.69L450.62 236.69L450.86 236.68L451.11 236.67L451.35 236.67L451.59 236.66L451.83 236.65L452.07 236.64L452.31 236.63L452.55 236.62L452.80 236.61L453.04 236.60L453.28 236.59L453.52 236.58L453.76 236.57L454.00 236.55L454.24 236.54L454.48 236.53L454.72 236.51L454.96 236.50L455.21 236.48L455.45 236.46L455.69 236.45L455.93 236.43L456.17 236.41L456.41 236.39L456.65 236.37L456.89 236.35L457.13 236.33L457.37 236.31L457.61 236.29L457.85 236.27L458.09 236.24L458.33 236.22L458.57 236.20L458.81 236.17L459.05 236.15L459.29 236.12L459.53 236.10L459.77 236.07M479.49 232.01L479.73 231.94L479.96 231.87L480.20 231.80L480.43 231.73L480.67 231.66L480.90 231.59L481.14 231.52L481.37 231.44L481.60 231.37L481.84 231.30L482.07 231.22L482.31 231.15L482.54 231.07L482.78 231.00L483.01 230.92L483.25 230.84L483.48 230.77L483.71 230.69L483.95 230.61L484.18 230.54L484.42 230.46L484.65 230.38L484.88 230.30L485.12 230.22L485.35 230.14L485.59 230.06L485.82 229.98L486.05 229.89L486.29 229.81L486.52 229.73L486.75 229.65L486.99 229.56L487.22 229.48L487.45 229.39L487.69 229.31L487.92 229.22L488.15 229.14L488.39 229.05L488.62 228.97L488.85 228.88L489.08 228.79L489.32 228.71L489.55 228.62L489.78 228.53L490.01 228.44L490.25 228.35L490.48 228.26L490.71 228.17L490.94 228.08L491.18 227.99L491.41 227.90L491.64 227.81L491.87 227.72L492.10 227.62L492.34 227.53L492.57 227.44L492.80 227.34L493.03 227.25L493.26 227.15L493.49 227.06L493.73 226.96L493.96 226.87L494.19 226.77M514.05 217.06L514.28 216.93L514.50 216.81L514.73 216.68L514.95 216.55L515.18 216.43L515.40 216.30L515.63 216.17L515.85 216.04L516.08 215.91L516.30 215.79L516.52 215.66L516.75 215.53L516.97 215.40L517.20 215.27L517.42 215.14L517.65 215.01L517.87 214.88L518.09 214.75L518.32 214.62L518.54 214.49L518.76 214.36L518.99 214.23L519.21 214.09L519.43 213.96L519.66 213.83L519.88 213.70L520.10 213.56L520.33 213.43L520.55 213.30L520.77 213.16L521.00 213.03L521.22 212.90L521.44 212.76L521.66 212.63L521.89 212.49L522.11 212.36L522.33 212.22L522.55 212.09L522.78 211.95L523.00 211.81L523.22 211.68L523.44 211.54L523.67 211.40L523.89 211.27L524.11 211.13L524.33 210.99L524.55 210.85L524.77 210.72L524.99 210.58L525.22 210.44L525.44 210.30L525.66 210.16L525.88 210.02L526.10 209.88L526.32 209.74L526.54 209.60L526.76 209.46L526.98 209.32L527.21 209.18L527.43 209.04L527.65 208.90L527.87 208.76L528.09 208.62L528.31 208.48L528.53 208.34L528.75 208.19M548.42 194.54L548.64 194.39L548.85 194.23L549.06 194.07L549.27 193.92L549.48 193.76L549.69 193.60L549.91 193.45L550.12 193.29L550.33 193.13L550.54 192.98L550.75 192.82L550.96 192.66L551.17 192.50L551.39 192.35L551.60 192.19L551.81 192.03L552.02 191.87L552.23 191.71L552.44 191.56L552.65 191.40L552.86 191.24L553.07 191.08L553.28 190.92L553.49 190.76L553.70 190.61L553.91 190.45L554.12 190.29L554.33 190.13L554.54 189.97L554.75 189.81L554.96 189.65L555.17 189.49L555.38 189.33L555.59 189.18L555.79 189.02L556.00 188.86L556.21 188.70L556.42 188.54L556.63 188.38L556.84 188.22L557.05 188.06L557.26 187.90L557.46 187.74L557.67 187.58L557.88 187.42L558.09 187.26L558.30 187.10L558.50 186.94L558.71 186.78L558.92 186.62L559.13 186.46L559.33 186.30L559.54 186.14L559.75 185.98L559.96 185.82L560.16 185.66L560.37 185.50L560.58 185.34L560.78 185.18L560.99 185.02L561.20 184.86L561.40 184.70L561.61 184.54L561.82 184.38L562.02 184.22L562.23 184.05L562.43 183.89L562.64 183.73L562.85 183.57L563.05 183.41L563.26 183.25M582.93 167.53L583.13 167.37L583.32 167.22L583.52 167.06L583.71 166.90L583.91 166.74L584.10 166.58L584.30 166.42L584.49 166.26L584.69 166.10L584.89 165.95L585.08 165.79L585.28 165.63L585.47 165.47L585.67 165.31L585.86 165.15L586.05 164.99L586.25 164.84L586.44 164.68L586.64 164.52L586.83 164.36L587.03 164.20L587.22 164.05L587.41 163.89L587.61 163.73L587.80 163.57L588.00 163.42L588.19 163.26L588.38 163.10L588.58 162.94L588.77 162.79L588.96 162.63L589.16 162.47L589.35 162.31L589.54 162.16L589.74 162.00L589.93 161.84L590.12 161.68L590.31 161.53L590.51 161.37L590.70 161.21L590.89 161.06L591.08 160.90L591.28 160.74L591.47 160.59L591.66 160.43L591.85 160.27L592.05 160.12L592.24 159.96L592.43 159.81L592.62 159.65L592.81 159.49L593.00 159.34L593.20 159.18L593.39 159.03L593.58 158.87L593.77 158.71L593.96 158.56L594.15 158.40L594.34 158.25L594.53 158.09L594.72 157.94L594.91 157.78L595.10 157.63L595.30 157.47L595.49 157.32L595.68 157.16L595.87 157.01L596.06 156.85L596.25 156.70L596.44 156.54L596.63 156.39L596.82 156.23L597.01 156.08L597.20 155.92L597.38 155.77L597.57 155.62L597.76 155.46M617.57 139.58L617.76 139.44L617.94 139.30L618.12 139.16L618.30 139.01L618.48 138.87L618.66 138.73L618.84 138.59L619.02 138.45L619.20 138.31L619.38 138.17L619.56 138.03L619.74 137.89L619.92 137.75L620.10 137.61L620.28 137.47L620.46 137.33L620.64 137.19L620.82 137.05L621.00 136.91L621.18 136.77L621.36 136.63L621.54 136.49L621.72 136.36L621.90 136.22L622.08 136.08L622.26 135.94L622.44 135.80L622.62 135.67L622.80 135.53L622.98 135.39L623.16 135.25L623.34 135.12L623.51 134.98L623.69 134.84L623.87 134.71L624.05 134.57L624.23 134.43L624.41 134.30L624.59 134.16L624.77 134.03L624.94 133.89L625.12 133.75L625.30 133.62L625.48 133.48L625.66 133.35L625.83 133.21L626.01 133.08L626.19 132.94L626.37 132.81L626.55 132.68L626.72 132.54L626.90 132.41L627.08 132.27L627.26 132.14L627.43 132.01L627.61 131.87L627.79 131.74L627.97 131.61L628.14 131.47L628.32 131.34L628.50 131.21L628.68 131.08L628.85 130.95L629.03 130.81L629.21 130.68L629.38 130.55L629.56 130.42L629.74 130.29L629.91 130.16L630.09 130.03L630.27 129.90L630.44 129.77L630.62 129.64L630.79 129.51L630.97 129.38L631.15 129.25L631.32 129.12L631.50 128.99L631.67 128.86L631.85 128.73L632.03 128.60L632.20 128.47M652.04 115.04L652.21 114.94L652.38 114.83L652.55 114.73L652.72 114.63L652.89 114.53L653.06 114.42L653.22 114.32L653.39 114.22L653.56 114.12L653.73 114.02L653.90 113.91L654.07 113.81L654.24 113.71L654.41 113.61L654.58 113.51L654.74 113.41L654.91 113.31L655.08 113.21L655.25 113.11L655.42 113.01L655.59 112.91L655.76 112.82L655.92 112.72L656.09 112.62L656.26 112.52L656.43 112.42L656.60 112.33L656.77 112.23L656.93 112.13L657.10 112.04L657.27 111.94L657.44 111.85L657.61 111.75L657.77 111.65L657.94 111.56L658.11 111.46L658.28 111.37L658.45 111.28L658.61 111.18L658.78 111.09L658.95 110.99L659.12 110.90L659.28 110.81L659.45 110.71L659.62 110.62L659.79 110.53L659.95 110.44L660.12 110.35L660.29 110.25L660.46 110.16L660.62 110.07L660.79 109.98L660.96 109.89L661.12 109.80L661.29 109.71L661.46 109.62L661.63 109.53L661.79 109.44L661.96 109.36L662.13 109.27L662.29 109.18L662.46 109.09L662.63 109.00L662.88 108.87L663.13 108.74L663.38 108.61L663.63 108.48L663.88 108.35L664.13 108.23L664.38 108.10L664.62 107.97L664.87 107.85L665.12 107.72L665.37 107.60L665.62 107.47L665.87 107.35L666.12 107.22L666.37 107.10L666.62 106.98M686.62 99.29L686.86 99.23L687.11 99.16L687.35 99.09L687.60 99.03L687.85 98.96L688.09 98.90L688.34 98.84L688.58 98.78L688.83 98.71L689.08 98.65L689.32 98.59L689.57 98.53L689.81 98.48L690.06 98.42L690.30 98.36L690.55 98.30L690.80 98.25L691.04 98.19L691.29 98.14L691.53 98.09L691.78 98.03L692.03 97.98L692.27 97.93L692.52 97.88L692.77 97.83L693.01 97.78L693.26 97.73L693.50 97.68L693.75 97.64L694.00 97.59L694.24 97.54L694.49 97.50L694.74 97.46L694.98 97.41L695.23 97.37L695.47 97.33L695.72 97.29L695.97 97.25L696.21 97.21L696.46 97.17L696.71 97.13L696.95 97.09L697.20 97.06L697.45 97.02L697.69 96.99L697.94 96.95L698.19 96.92L698.43 96.88L698.68 96.85L698.93 96.82L699.17 96.79L699.42 96.76L699.67 96.73L699.92 96.70L700.16 96.67L700.41 96.65L700.66 96.62L700.90 96.60L701.15 96.57M721.00 97.12L721.17 97.15L721.34 97.18L721.51 97.20L721.68 97.23L721.85 97.26L722.02 97.29L722.19 97.31L722.36 97.34L722.53 97.37L722.70 97.40L722.87 97.43L723.04 97.46L723.21 97.49L723.38 97.52L723.55 97.56L723.72 97.59L723.89 97.62L724.06 97.65L724.23 97.68L724.40 97.72L724.57 97.75L724.74 97.79L724.91 97.82L725.08 97.86L725.25 97.89L725.42 97.93L725.59 97.96L725.76 98.00L725.94 98.04L726.11 98.07L726.28 98.11L726.45 98.15L726.62 98.19L726.79 98.23L726.96 98.26L727.13 98.30L727.30 98.34L727.48 98.38L727.65 98.42L727.82 98.47L727.99 98.51L728.16 98.55L728.33 98.59L728.51 98.63L728.68 98.68L728.85 98.72L729.02 98.76L729.19 98.81L729.37 98.85L729.54 98.90L729.71 98.94L729.88 98.99L730.06 99.03L730.23 99.08L730.40 99.13L730.57 99.17L730.75 99.22L730.92 99.27L731.09 99.32L731.26 99.37L731.44 99.41L731.61 99.46L731.78 99.51L731.96 99.56L732.13 99.61L732.30 99.67L732.48 99.72L732.65 99.77L732.82 99.82L733.00 99.87L733.17 99.93L733.35 99.98L733.52 100.03L733.69 100.09L733.87 100.14L734.04 100.20L734.21 100.25L734.39 100.31L734.56 100.36L734.74 100.42L734.91 100.48L735.09 100.53L735.26 100.59L735.44 100.65L735.61 100.71M755.50 109.70L755.68 109.81L755.86 109.91L756.05 110.01L756.23 110.12L756.42 110.23L756.60 110.33L756.78 110.44L756.97 110.54L757.15 110.65L757.34 110.76L757.52 110.87L757.70 110.97L757.89 111.08L758.07 111.19L758.26 111.30L758.44 111.41L758.63 111.52L758.81 111.63L759.00 111.74L759.18 111.85L759.37 111.97L759.55 112.08L759.74 112.19L759.92 112.30L760.11 112.42L760.29 112.53L760.48 112.65L760.67 112.76L760.85 112.88L761.04 112.99L761.22 113.11L761.41 113.22L761.59 113.34L761.78 113.46L761.97 113.57L762.15 113.69L762.34 113.81L762.52 113.93L762.71 114.05L762.90 114.17L763.08 114.29L763.27 114.41L763.46 114.53L763.64 114.65L763.83 114.77L764.02 114.89L764.20 115.02L764.39 115.14L764.58 115.26L764.77 115.39L764.95 115.51L765.14 115.63L765.33 115.76L765.52 115.88L765.70 116.01L765.89 116.14L766.08 116.26L766.27 116.39L766.45 116.52L766.64 116.64L766.83 116.77L767.02 116.90L767.20 117.03L767.39 117.16L767.58 117.29L767.77 117.42L767.96 117.55L768.15 117.68L768.33 117.81L768.52 117.94L768.71 118.07L768.90 118.21L769.09 118.34L769.28 118.47L769.47 118.61L769.66 118.74L769.84 118.88L770.03 119.01L770.22 119.15M790.03 135.25L790.22 135.42L790.42 135.60L790.61 135.78L790.81 135.96L791.00 136.14L791.20 136.32L791.39 136.50L791.59 136.68L791.79 136.86L791.98 137.04L792.18 137.22L792.37 137.40L792.57 137.58L792.76 137.77L792.96 137.95L793.16 138.13L793.35 138.32L793.55 138.50L793.74 138.68L793.94 138.87L794.14 139.05L794.33 139.24L794.53 139.43L794.73 139.61L794.92 139.80L795.12 139.99L795.32 140.18L795.51 140.36L795.71 140.55L795.91 140.74L796.10 140.93L796.30 141.12L796.50 141.31L796.69 141.50L796.89 141.69L797.09 141.88L797.28 142.07L797.48 142.27L797.68 142.46L797.88 142.65L798.07 142.85L798.27 143.04L798.47 143.23L798.66 143.43L798.86 143.62L799.06 143.82L799.26 144.02L799.45 144.21L799.65 144.41L799.85 144.61L800.05 144.80L800.25 145.00L800.44 145.20L800.64 145.40L800.84 145.60L801.04 145.80L801.24 146.00L801.43 146.20L801.63 146.40L801.83 146.60L802.03 146.80L802.23 147.00L802.42 147.20L802.62 147.41L802.82 147.61L803.02 147.81L803.22 148.02L803.42 148.22L803.61 148.43L803.81 148.63L804.01 148.84L804.21 149.04L804.41 149.25L804.61 149.45M822.25 169.22L822.46 169.46L822.66 169.70L822.86 169.95L823.06 170.19L823.26 170.43L823.47 170.68L823.67 170.92L823.87 171.17L824.07 171.41L824.28 171.66L824.48 171.91L824.68 172.15L824.88 172.40L825.09 172.65L825.29 172.90L825.49 173.14L825.69 173.39L825.90 173.64L826.10 173.89L826.25 174.08L826.40 174.27L826.56 174.45L826.71 174.64L826.86 174.83L827.01 175.02L827.16 175.21L827.32 175.40L827.47 175.59L827.62 175.78L827.77 175.97L827.93 176.16L828.08 176.35L828.23 176.54L828.38 176.73L828.53 176.92L828.69 177.11L828.84 177.30L828.99 177.49L829.14 177.68L829.30 177.88L829.45 178.07L829.60 178.26L829.75 178.45L829.91 178.65L830.06 178.84L830.21 179.03L830.36 179.23L830.52 179.42L830.67 179.61L830.82 179.81L830.97 180.00L831.13 180.20L831.28 180.39L831.43 180.59L831.58 180.78L831.74 180.98L831.89 181.17L832.04 181.37L832.19 181.57L832.35 181.76L832.50 181.96L832.65 182.16L832.80 182.35L832.96 182.55L833.11 182.75L833.26 182.95L833.42 183.14L833.57 183.34L833.72 183.54L833.87 183.74L834.03 183.94M848.59 203.83L848.74 204.05L848.90 204.26L849.05 204.48L849.20 204.70L849.36 204.92L849.51 205.14L849.66 205.36L849.82 205.58L849.97 205.80L850.12 206.02L850.28 206.24L850.43 206.46L850.58 206.68L850.74 206.90L850.89 207.12L851.04 207.34L851.20 207.56L851.35 207.79L851.50 208.01L851.65 208.23L851.81 208.45L851.96 208.67L852.11 208.89L852.27 209.12L852.42 209.34L852.57 209.56L852.73 209.78L852.88 210.01L853.03 210.23L853.18 210.45L853.34 210.67L853.49 210.90L853.64 211.12L853.79 211.34L853.95 211.57L854.10 211.79L854.25 212.02L854.41 212.24L854.56 212.46L854.71 212.69L854.86 212.91L855.02 213.14L855.17 213.36L855.32 213.59L855.47 213.81L855.63 214.04L855.78 214.26L855.93 214.49L856.08 214.71L856.24 214.94L856.39 215.16L856.54 215.39L856.69 215.61L856.84 215.84L857.00 216.07L857.15 216.29L857.30 216.52L857.45 216.74L857.60 216.97L857.76 217.20L857.91 217.42L858.06 217.65L858.21 217.88L858.36 218.10L858.52 218.33L858.67 218.56M871.55 238.36L871.69 238.59L871.84 238.82L871.99 239.05L872.14 239.29L872.28 239.52L872.43 239.75L872.58 239.98L872.72 240.22L872.87 240.45L873.02 240.68L873.16 240.91L873.31 241.14L873.46 241.38L873.60 241.61L873.75 241.84L873.89 242.07L874.04 242.30L874.19 242.54L874.33 242.77L874.48 243.00L874.62 243.23L874.77 243.47L874.92 243.70L875.06 243.93L875.21 244.16L875.35 244.39L875.50 244.63L875.64 244.86L875.79 245.09L875.93 245.32L876.08 245.55L876.22 245.79L876.37 246.02L876.51 246.25L876.66 246.48L876.80 246.72L876.95 246.95L877.09 247.18L877.24 247.41L877.38 247.64L877.52 247.87L877.67 248.11L877.81 248.34L877.96 248.57L878.10 248.80L878.24 249.03L878.39 249.27L878.53 249.50L878.68 249.73L878.82 249.96L878.96 250.19L879.11 250.42L879.25 250.66L879.39 250.89L879.53 251.12L879.68 251.35L879.82 251.58L879.96 251.81L880.11 252.04L880.25 252.27L880.39 252.51L880.53 252.74L880.68 252.97M892.66 272.79L892.79 273.01L892.93 273.24L893.06 273.46L893.19 273.68L893.32 273.91L893.46 274.13L893.59 274.35L893.72 274.57L893.85 274.80L893.98 275.02L894.11 275.24L894.25 275.46L894.38 275.68L894.51 275.90L894.64 276.13L894.77 276.35L894.90 276.57L895.03 276.79L895.16 277.01L895.29 277.23L895.42 277.45L895.55 277.67L895.68 277.89L895.81 278.11L895.94 278.33L896.07 278.55L896.20 278.77L896.33 278.99L896.46 279.21L896.59 279.43L896.72 279.65L896.85 279.87L896.97 280.08L897.10 280.30L897.23 280.52L897.36 280.74L897.49 280.96L897.61 281.17L897.74 281.39L897.87 281.61L898.00 281.83L898.12 282.04L898.25 282.26L898.38 282.48L898.51 282.69L898.63 282.91L898.76 283.13L898.89 283.34L899.01 283.56L899.14 283.77L899.26 283.99L899.39 284.20L899.52 284.42L899.64 284.64L899.77 284.85L899.89 285.06L900.02 285.28L900.14 285.49L900.27 285.71L900.39 285.92L900.52 286.13L900.64 286.35L900.77 286.56L900.89 286.77L901.01 286.99L901.14 287.20L901.26 287.41M912.70 307.32L912.81 307.50L912.95 307.75L913.09 308.00L913.24 308.25L913.38 308.50L913.52 308.75L913.66 309.00L913.80 309.24L913.94 309.49L914.08 309.74L914.22 309.98L914.36 310.23L914.50 310.47L914.63 310.71L914.77 310.96L914.91 311.20L915.05 311.44L915.18 311.68L915.32 311.92L915.45 312.16L915.59 312.40L915.73 312.64L915.86 312.88L915.99 313.12L916.13 313.36L916.26 313.59L916.40 313.83L916.53 314.07L916.66 314.30L916.79 314.54L916.93 314.77L917.06 315.00L917.19 315.24L917.32 315.47L917.45 315.70L917.58 315.93L917.71 316.16L917.84 316.39L917.97 316.62L918.10 316.85L918.23 317.08L918.36 317.30L918.48 317.53L918.61 317.76L918.74 317.98L918.87 318.21L918.99 318.43L919.12 318.66L919.24 318.88L919.37 319.10L919.49 319.32L919.62 319.54L919.74 319.76L919.86 319.98L919.99 320.20L920.11 320.42L920.23 320.64L920.36 320.86L920.48 321.07L920.60 321.29L920.72 321.50L920.84 321.72L920.96 321.93M932.10 341.80L932.21 342.00L932.32 342.20L932.43 342.39L932.54 342.59L932.65 342.78L932.75 342.97L932.86 343.16L932.97 343.35L933.07 343.54L933.18 343.73L933.28 343.91L933.38 344.10L933.49 344.28L933.59 344.46L933.69 344.64L933.79 344.82L933.89 344.99L933.99 345.17L934.08 345.34L934.18 345.52L934.28 345.69L934.37 345.86L934.47 346.03L934.56 346.20L934.65 346.36L934.75 346.53L934.84 346.69L934.93 346.85L935.02 347.01L935.11 347.17L935.20 347.33L935.29 347.49L935.37 347.65L935.46 347.80L935.55 347.95L935.63 348.11L935.72 348.26L935.80 348.41L935.88 348.56L935.97 348.70L936.05 348.85L936.13 349.00L936.21 349.14L936.29 349.28L936.37 349.42L936.45 349.56L936.53 349.70L936.60 349.84L936.68 349.98L936.76 350.11L936.83 350.25L936.91 350.38L936.98 350.51L937.05 350.64L937.13 350.77L937.20 350.90L937.27 351.03L937.34 351.15L937.48 351.40L937.62 351.65L937.75 351.89L937.88 352.12L938.01 352.35L938.14 352.58L938.27 352.80L938.39 353.02L938.51 353.24L938.63 353.45L938.74 353.65L938.85 353.85L938.96 354.05L939.07 354.25L939.18 354.44L939.28 354.62L939.39 354.80L939.49 354.98L939.58 355.16L939.68 355.33L939.77 355.49L939.86 355.66L939.95 355.82L940.04 355.97L940.13 356.13L940.21 356.28L940.29 356.42" fill="none" stroke="#000" stroke-width="4.2" stroke-linecap="round" stroke-linejoin="round"/>
<g><circle cx="238.40" cy="179.45" r="8.55" class="mk"/><circle cx="332.55" cy="198.25" r="8.55" class="mk"/><circle cx="458.45" cy="260.20" r="8.55" class="mk"/><circle cx="572.10" cy="179.30" r="8.55" class="mk"/><circle cx="660.90" cy="99.90" r="8.55" class="mk"/><circle cx="739.00" cy="86.50" r="8.55" class="mk"/><circle cx="838.00" cy="173.90" r="8.55" class="mk"/><circle cx="942.55" cy="360.45" r="8.55" class="mk"/></g>
<path d="M238.50 204.67L238.50 204.67L238.50 204.67L238.50 204.67L238.50 204.67L238.50 204.67L238.50 204.67L238.50 204.67L238.50 204.67L238.50 204.67L238.50 204.67L238.51 204.67L238.51 204.67L238.51 204.66L238.51 204.66L238.51 204.66L238.52 204.66L238.52 204.66L238.53 204.65L238.53 204.65L238.53 204.65L238.54 204.65L238.55 204.64L238.55 204.64L238.56 204.63L238.57 204.63L238.58 204.62L238.59 204.62L238.60 204.61L238.61 204.60L238.62 204.60L238.63 204.59L238.64 204.58L238.66 204.57L238.67 204.56L238.69 204.56L238.70 204.55L238.72 204.53L238.74 204.52L238.76 204.51L238.78 204.50L238.80 204.49L238.82 204.47L238.85 204.46L238.87 204.44L238.90 204.43L238.93 204.41L238.95 204.39L238.98 204.37L239.01 204.36L239.05 204.34L239.08 204.31L239.11 204.29L239.15 204.27L239.19 204.25L239.23 204.22L239.27 204.20L239.31 204.17L239.35 204.15L239.40 204.12L239.44 204.09L239.49 204.06L239.54 204.03L239.59 204.00L239.65 203.97L239.70 203.93L239.76 203.90L239.81 203.86L239.87 203.83L239.94 203.79L240.00 203.75L240.06 203.71M258.28 192.57L258.45 192.47L258.63 192.36L258.81 192.25L258.99 192.14L259.17 192.04L259.35 191.93L259.53 191.82L259.71 191.71L259.90 191.60L260.08 191.49L260.27 191.38L260.45 191.27L260.64 191.15L260.83 191.04M279.10 180.88L279.34 180.76L279.59 180.64L279.83 180.51L280.07 180.39L280.32 180.27L280.56 180.14L280.81 180.02L281.06 179.90L281.30 179.77L281.55 179.65M299.68 171.76L299.86 171.69L300.04 171.63L300.22 171.56L300.40 171.49L300.58 171.43L300.76 171.36L300.94 171.30L301.12 171.23L301.30 171.17L301.48 171.10L301.66 171.04L301.84 170.98L302.03 170.91L302.21 170.85M320.46 166.04L320.65 166.01L320.83 165.98L321.01 165.95L321.19 165.92L321.37 165.89L321.56 165.87L321.74 165.84L321.92 165.81L322.10 165.78L322.28 165.76L322.47 165.73L322.65 165.71L322.83 165.68M341.02 165.31L341.19 165.33L341.37 165.34L341.54 165.36L341.72 165.38L341.89 165.39L342.07 165.41L342.24 165.43L342.42 165.45L342.59 165.47L342.77 165.49L342.94 165.51L343.11 165.53L343.29 165.55L343.46 165.57L343.64 165.59M361.71 169.46L361.88 169.51L362.05 169.57L362.22 169.62L362.39 169.67L362.56 169.72L362.73 169.77L362.90 169.82L363.07 169.88L363.24 169.93L363.41 169.98L363.58 170.04L363.75 170.09L363.92 170.14L364.09 170.20L364.26 170.25M382.43 177.13L382.60 177.20L382.77 177.27L382.93 177.35L383.10 177.42L383.27 177.49L383.43 177.56L383.60 177.63L383.77 177.71L383.94 177.78L384.10 177.85L384.27 177.92L384.44 178.00L384.60 178.07L384.77 178.14L384.94 178.21M403.15 186.46L403.31 186.54L403.48 186.61L403.65 186.69L403.82 186.77L403.98 186.84L404.15 186.92L404.32 186.99L404.48 187.07L404.65 187.15L404.82 187.22L404.99 187.30L405.15 187.37L405.32 187.45L405.49 187.53L405.66 187.60M423.86 195.19L424.03 195.25L424.20 195.31L424.37 195.37L424.54 195.43L424.71 195.49L424.88 195.55L425.05 195.61L425.22 195.67L425.39 195.73L425.56 195.79L425.73 195.85L425.90 195.91L426.07 195.96L426.24 196.02L426.41 196.08M444.57 200.53L444.75 200.55L444.93 200.57L445.10 200.60L445.28 200.62L445.45 200.64L445.63 200.66L445.81 200.68L445.98 200.71L446.16 200.73L446.33 200.75L446.51 200.77L446.69 200.78L446.86 200.80L447.04 200.82M465.22 200.18L465.40 200.15L465.59 200.11L465.77 200.08L465.96 200.04L466.14 200.01L466.32 199.97L466.51 199.93L466.69 199.89L466.88 199.86L467.06 199.82L467.25 199.78L467.43 199.74L467.62 199.70L467.80 199.65M485.97 192.62L486.17 192.51L486.36 192.40L486.56 192.30L486.75 192.19L486.94 192.08L487.14 191.97L487.33 191.86L487.53 191.75L487.72 191.64L487.92 191.52L488.11 191.41L488.31 191.30L488.50 191.18M506.77 178.33L506.97 178.17L507.17 178.00L507.37 177.84L507.57 177.68L507.77 177.51L507.98 177.35L508.18 177.19L508.38 177.02L508.58 176.86L508.78 176.69L508.99 176.52L509.19 176.36M527.38 160.32L527.58 160.13L527.79 159.94L527.99 159.74L528.20 159.55L528.41 159.36L528.61 159.17L528.82 158.98L529.02 158.79L529.23 158.59L529.44 158.40L529.64 158.21L529.85 158.02M548.06 140.78L548.27 140.59L548.48 140.39L548.68 140.20L548.89 140.00L549.10 139.81L549.31 139.61L549.51 139.41L549.72 139.22L549.93 139.02L550.13 138.83L550.34 138.63L550.55 138.44M568.72 121.92L568.93 121.75L569.13 121.57L569.34 121.39L569.54 121.22L569.75 121.04L569.95 120.86L570.16 120.69L570.36 120.51L570.57 120.34L570.77 120.17L570.98 119.99L571.18 119.82L571.39 119.64M589.49 105.55L589.69 105.41L589.89 105.26L590.09 105.12L590.29 104.98L590.49 104.83L590.69 104.69L590.90 104.55L591.10 104.41L591.30 104.27L591.50 104.13L591.70 103.99L591.90 103.85M610.28 92.23L610.48 92.12L610.68 92.01L610.88 91.90L611.08 91.78L611.28 91.67L611.47 91.56L611.67 91.45L611.87 91.34L612.07 91.23L612.27 91.12L612.46 91.01L612.66 90.90M630.95 81.88L631.14 81.80L631.34 81.71L631.54 81.63L631.73 81.54L631.93 81.46L632.12 81.38L632.32 81.29L632.51 81.21L632.71 81.13L632.90 81.05L633.10 80.96L633.29 80.88L633.49 80.80M651.52 74.21L651.71 74.15L651.90 74.09L652.10 74.03L652.29 73.97L652.48 73.91L652.68 73.85L652.87 73.79L653.06 73.73L653.25 73.67L653.45 73.61L653.64 73.56L653.83 73.50L654.02 73.44M672.23 68.93L672.42 68.89L672.61 68.86L672.80 68.82L672.99 68.79L673.18 68.75L673.37 68.72L673.56 68.68L673.75 68.65L673.94 68.62L674.13 68.59L674.32 68.55L674.51 68.52L674.70 68.49M692.94 67.23L693.13 67.24L693.31 67.25L693.50 67.25L693.69 67.26L693.88 67.27L694.07 67.29L694.26 67.30L694.45 67.31L694.64 67.32L694.83 67.33L695.02 67.35L695.21 67.36L695.40 67.38L695.59 67.39M713.73 71.54L713.92 71.61L714.11 71.69L714.30 71.76L714.49 71.84L714.68 71.92L714.86 71.99L715.05 72.07L715.24 72.15L715.43 72.23L715.62 72.31L715.81 72.39L716.00 72.48L716.19 72.56M734.32 84.14L734.51 84.30L734.70 84.46L734.89 84.62L735.08 84.78L735.26 84.95L735.45 85.12L735.64 85.28L735.83 85.45L736.02 85.62L736.21 85.79L736.40 85.96L736.59 86.13L736.78 86.30L736.97 86.47M752.84 104.38L752.98 104.57L753.12 104.76L753.26 104.95L753.41 105.14L753.55 105.34L753.69 105.53L753.83 105.72L753.98 105.92L754.12 106.11L754.26 106.31L754.40 106.50L754.55 106.70L754.69 106.90M766.85 125.30L766.99 125.53L767.13 125.77L767.28 126.00L767.42 126.24L767.56 126.47L767.71 126.71L767.85 126.95L767.99 127.18L768.14 127.42L768.28 127.66M778.75 145.83L778.87 146.03L778.98 146.24L779.10 146.45L779.21 146.66L779.33 146.87L779.44 147.08L779.56 147.29L779.68 147.50L779.79 147.71L779.91 147.92L780.02 148.13L780.14 148.35M789.92 166.60L790.04 166.82L790.16 167.04L790.28 167.27L790.39 167.49L790.51 167.71L790.63 167.94L790.74 168.16L790.86 168.38L790.98 168.61L791.09 168.83L791.21 169.05M800.63 187.24L800.75 187.47L800.87 187.70L800.99 187.93L801.11 188.16L801.23 188.39L801.34 188.62L801.46 188.85L801.58 189.08L801.70 189.31L801.82 189.54L801.94 189.77M811.36 208.05L811.48 208.28L811.60 208.52L811.72 208.75L811.84 208.98L811.96 209.21L812.08 209.44L812.20 209.67L812.32 209.91L812.44 210.14L812.56 210.37L812.68 210.60M822.24 228.78L822.36 229.01L822.48 229.24L822.60 229.46L822.72 229.69L822.85 229.92L822.97 230.15L823.09 230.37L823.21 230.60L823.33 230.83L823.46 231.06L823.58 231.28M833.53 249.37L833.66 249.58L833.78 249.80L833.91 250.02L834.03 250.24L834.15 250.46L834.28 250.68L834.40 250.89L834.53 251.11L834.65 251.33L834.77 251.55L834.90 251.76L835.02 251.98M845.76 270.11L845.88 270.31L846.01 270.52L846.13 270.72L846.26 270.93L846.38 271.13L846.51 271.33L846.63 271.54L846.76 271.74L846.88 271.94L847.01 272.15L847.13 272.35L847.26 272.55M858.81 290.70L858.97 290.94L859.12 291.17L859.28 291.41L859.43 291.64L859.59 291.88L859.74 292.11L859.89 292.34L860.05 292.58L860.20 292.81L860.36 293.04L860.51 293.28M872.93 311.49L873.08 311.70L873.23 311.91L873.37 312.12L873.52 312.33L873.67 312.54L873.82 312.75L873.97 312.96L874.11 313.17L874.26 313.38L874.41 313.59L874.56 313.80L874.70 314.01M887.93 332.21L888.11 332.45L888.29 332.69L888.47 332.93L888.65 333.17L888.83 333.41L889.01 333.65L889.19 333.89L889.37 334.13L889.55 334.37L889.72 334.61M903.74 352.81L903.89 353.00L904.04 353.19L904.19 353.38L904.34 353.57L904.49 353.76L904.64 353.95L904.78 354.13L904.93 354.32L905.08 354.51L905.22 354.69L905.37 354.88L905.52 355.06L905.66 355.24L905.81 355.43M920.34 373.55L920.47 373.71L920.61 373.88L920.74 374.04L920.86 374.20L920.99 374.36L921.12 374.52L921.25 374.67L921.37 374.83L921.50 374.98L921.62 375.14L921.74 375.29L921.86 375.44L921.98 375.59L922.10 375.74L922.22 375.88L922.34 376.03" fill="none" stroke="#000" stroke-width="4.2" stroke-linecap="round" stroke-linejoin="round"/>
<g><path d="M238.50 193.80L248.30 210.10L228.70 210.10Z" class="mk tr"/><path d="M327.00 139.60L336.80 155.90L317.20 155.90Z" class="mk tr"/><path d="M401.35 175.30L411.15 191.60L391.55 191.60Z" class="mk tr"/><path d="M477.45 208.60L487.25 224.90L467.65 224.90Z" class="mk tr"/><path d="M573.50 96.50L583.30 112.80L563.70 112.80Z" class="mk tr"/><path d="M661.80 53.90L671.60 70.20L652.00 70.20Z" class="mk tr"/><path d="M746.10 51.35L755.90 67.65L736.30 67.65Z" class="mk tr"/><path d="M832.40 253.50L842.20 269.80L822.60 269.80Z" class="mk tr"/><path d="M932.20 377.40L942.00 393.70L922.40 393.70Z" class="mk tr"/></g>
<path d="M271.60 108.03L271.60 108.03L271.60 108.03L271.60 108.03L271.60 108.03L271.60 108.03L271.60 108.03L271.60 108.03L271.60 108.03L271.60 108.03L271.60 108.03L271.60 108.03L271.60 108.03L271.61 108.03L271.61 108.03L271.61 108.03L271.61 108.03L271.61 108.03L271.62 108.03L271.62 108.03L271.62 108.03L271.63 108.03L271.63 108.03L271.63 108.03L271.64 108.04L271.64 108.04L271.65 108.04L271.66 108.04L271.66 108.04L271.67 108.04L271.68 108.04L271.69 108.04L271.69 108.04L271.70 108.04L271.71 108.05L271.72 108.05L271.73 108.05L271.74 108.05L271.76 108.05L271.77 108.05L271.78 108.06L271.80 108.06L271.81 108.06L271.83 108.06L271.84 108.06L271.86 108.07L271.88 108.07L271.90 108.07L271.92 108.08L271.94 108.08L271.96 108.08L271.98 108.08L272.00 108.09L272.03 108.09L272.05 108.09L272.08 108.10L272.10 108.10L272.13 108.11L272.16 108.11L272.19 108.11L272.22 108.12L272.25 108.12L272.28 108.13L272.32 108.13L272.35 108.14L272.39 108.14L272.42 108.15L272.46 108.15L272.50 108.16L272.54 108.16L272.58 108.17L272.62 108.18L272.67 108.18L272.71 108.19L272.76 108.20L272.81 108.20L272.86 108.21L272.91 108.22L272.96 108.22L273.01 108.23L273.07 108.24L273.12 108.25L273.18 108.26L273.24 108.26L273.30 108.27L273.36 108.28L273.42 108.29L273.48 108.30L273.55 108.31L273.62 108.32L273.69 108.33L273.76 108.34L273.83 108.35L273.90 108.36L273.98 108.37L274.05 108.38L274.13 108.39L274.21 108.40L274.29 108.42L274.38 108.43L274.46 108.44L274.55 108.45L274.64 108.47L274.73 108.48L274.82 108.49L274.91 108.51L275.01 108.52L275.11 108.53L275.21 108.55L275.31 108.56L275.41 108.58L275.51 108.59L275.62 108.61L275.73 108.62L275.84 108.64L275.95 108.65L276.07 108.67L276.18 108.69L276.30 108.70L276.42 108.72L276.55 108.74L276.67 108.76L276.80 108.78L276.93 108.79L277.06 108.81L277.19 108.83L277.33 108.85L277.46 108.87L277.60 108.89L277.74 108.91L277.89 108.93L278.03 108.95L278.18 108.97L278.33 109.00L278.49 109.02L278.64 109.04L278.80 109.06L278.96 109.09L279.12 109.11L279.29 109.13L279.45 109.16L279.62 109.18L279.80 109.20L279.97 109.23L280.15 109.26L280.33 109.28L280.51 109.31L280.69 109.33L280.88 109.36L281.07 109.39L281.26 109.41L281.45 109.44L281.65 109.47L281.85 109.50L282.05 109.53L282.26 109.56L282.47 109.59L282.68 109.62L282.89 109.65L283.11 109.68L283.32 109.71L283.54 109.74L283.77 109.77L284.00 109.81L284.23 109.84L284.46 109.87L284.69 109.91L284.93 109.94L285.17 109.98L285.42 110.01L285.66 110.05L285.91 110.08L286.04 110.10L286.16 110.12L286.29 110.14L286.42 110.15L286.55 110.17L286.68 110.19L286.81 110.21L286.94 110.23L287.07 110.25L287.20 110.27L287.34 110.29L287.47 110.31L287.61 110.32L287.74 110.34L287.88 110.36L288.02 110.38L288.15 110.40M301.26 112.25L301.46 112.28L301.65 112.30L301.85 112.33L302.05 112.36L302.25 112.38L302.45 112.41L302.65 112.44L302.85 112.46L303.05 112.49L303.25 112.52L303.45 112.54L303.65 112.57L303.86 112.60M314.98 113.98L315.21 114.00L315.45 114.03L315.68 114.06L315.91 114.08L316.14 114.11L316.38 114.14L316.61 114.16L316.85 114.19L317.08 114.22L317.32 114.24L317.55 114.27L317.79 114.30L318.03 114.32L318.27 114.35L318.50 114.37L318.74 114.40L318.98 114.43L319.22 114.45L319.46 114.48L319.70 114.50L319.94 114.53L320.18 114.56L320.42 114.58L320.67 114.61L320.91 114.63L321.15 114.66L321.39 114.68L321.64 114.71L321.88 114.74L322.13 114.76L322.37 114.79L322.62 114.81L322.86 114.84L323.11 114.86L323.35 114.89L323.60 114.91L323.85 114.94L324.09 114.96L324.34 114.98L324.59 115.01L324.84 115.03L325.09 115.06L325.34 115.08L325.59 115.11L325.84 115.13L326.00 115.15L326.17 115.16L326.34 115.18L326.51 115.19L326.67 115.21L326.84 115.23L327.01 115.24L327.18 115.26L327.34 115.27L327.51 115.29L327.68 115.31L327.85 115.32L328.02 115.34L328.19 115.35L328.36 115.37L328.53 115.38L328.70 115.40L328.86 115.41L329.03 115.43L329.20 115.44L329.37 115.46L329.54 115.47L329.71 115.49L329.88 115.50L330.06 115.52L330.23 115.53L330.40 115.55L330.57 115.56L330.74 115.58L330.91 115.59L331.08 115.61L331.25 115.62L331.42 115.64M344.63 116.57L344.81 116.58L344.99 116.59L345.17 116.60L345.35 116.61L345.53 116.62L345.71 116.63L345.89 116.64L346.07 116.65L346.25 116.66L346.43 116.67L346.61 116.68L346.79 116.69L346.97 116.70L347.15 116.71M358.27 117.09L358.46 117.09L358.64 117.09L358.82 117.10L359.01 117.10L359.19 117.10L359.37 117.10L359.56 117.11L359.74 117.11L359.92 117.11L360.11 117.11L360.29 117.12L360.47 117.12L360.66 117.12L360.84 117.12L361.03 117.12L361.21 117.13L361.39 117.13L361.58 117.13L361.76 117.13L361.94 117.13L362.13 117.13L362.31 117.13L362.50 117.14L362.68 117.14L362.86 117.14L363.05 117.14L363.23 117.14L363.41 117.14L363.60 117.14L363.78 117.14L363.97 117.14L364.15 117.14L364.33 117.14L364.52 117.14L364.70 117.14L364.88 117.14L365.07 117.14L365.25 117.14L365.43 117.14L365.62 117.14L365.80 117.13L365.99 117.13L366.17 117.13L366.35 117.13L366.54 117.13L366.72 117.13L366.90 117.13L367.09 117.12L367.27 117.12L367.45 117.12L367.64 117.12L367.82 117.12L368.00 117.11L368.19 117.11L368.37 117.11L368.56 117.11L368.74 117.10L368.92 117.10L369.11 117.10L369.29 117.09L369.47 117.09L369.66 117.09L369.84 117.08L370.02 117.08L370.21 117.08L370.39 117.07L370.57 117.07L370.75 117.06L370.94 117.06L371.12 117.05L371.30 117.05L371.49 117.04L371.67 117.04L371.85 117.03L372.04 117.03L372.22 117.02L372.40 117.02L372.58 117.01L372.77 117.01L372.95 117.00L373.13 117.00L373.31 116.99L373.50 116.98L373.68 116.98L373.86 116.97L374.04 116.97L374.23 116.96L374.41 116.95L374.59 116.94L374.77 116.94M387.91 116.05L388.09 116.04L388.27 116.02L388.45 116.00L388.62 115.98L388.80 115.97L388.98 115.95L389.16 115.93L389.33 115.91L389.51 115.89L389.69 115.88L389.86 115.86L390.04 115.84L390.22 115.82L390.40 115.80M401.59 114.37L401.76 114.34L401.94 114.31L402.11 114.29L402.28 114.26L402.45 114.23L402.63 114.21L402.80 114.18L402.97 114.15L403.15 114.13L403.32 114.10L403.49 114.07L403.66 114.05L403.84 114.02L404.01 113.99L404.18 113.97L404.35 113.94L404.53 113.91L404.70 113.88L404.87 113.86L405.04 113.83L405.22 113.80L405.39 113.77L405.56 113.74L405.73 113.72L405.90 113.69L406.08 113.66L406.25 113.63L406.42 113.60L406.59 113.57L406.76 113.54L406.93 113.52L407.11 113.49L407.28 113.46L407.45 113.43L407.62 113.40L407.79 113.37L407.96 113.34L408.14 113.31L408.31 113.28L408.48 113.25L408.65 113.22L408.82 113.19L408.99 113.16L409.16 113.13L409.33 113.10L409.51 113.07L409.68 113.04L409.85 113.01L410.02 112.98L410.19 112.95L410.36 112.92L410.53 112.89L410.70 112.86L410.87 112.83L411.04 112.80L411.21 112.77L411.38 112.74L411.55 112.71L411.73 112.67L411.90 112.64L412.07 112.61L412.24 112.58L412.41 112.55L412.58 112.52L412.75 112.49L412.92 112.45L413.09 112.42L413.26 112.39L413.43 112.36L413.60 112.33L413.77 112.29L413.94 112.26L414.11 112.23L414.28 112.20L414.45 112.16L414.62 112.13L414.79 112.10L414.96 112.07L415.13 112.03L415.30 112.00L415.47 111.97L415.64 111.94L415.81 111.90L415.98 111.87L416.15 111.84L416.31 111.80L416.48 111.77L416.65 111.74L416.82 111.70L416.99 111.67L417.16 111.64L417.33 111.60L417.50 111.57L417.67 111.53L417.84 111.50L418.01 111.47M431.11 108.64L431.27 108.61L431.44 108.57L431.61 108.53L431.77 108.49L431.94 108.45L432.11 108.42L432.27 108.38L432.44 108.34L432.61 108.30L432.77 108.26L432.94 108.22L433.19 108.17L433.44 108.11L433.69 108.05M444.90 105.38L445.15 105.32L445.40 105.26L445.65 105.20L445.89 105.14L446.14 105.08L446.39 105.02L446.64 104.96L446.89 104.90L447.14 104.84L447.38 104.78L447.63 104.71L447.88 104.65L448.13 104.59L448.38 104.53L448.63 104.47L448.87 104.41L449.12 104.35L449.37 104.29L449.62 104.23L449.87 104.17L450.12 104.11L450.36 104.05L450.61 103.99L450.86 103.93L451.11 103.87L451.36 103.81L451.61 103.75L451.85 103.69L452.10 103.63L452.35 103.56L452.60 103.50L452.85 103.44L453.09 103.38L453.34 103.32L453.59 103.26L453.84 103.20L454.09 103.14L454.34 103.08L454.58 103.02L454.83 102.96L455.08 102.90L455.33 102.84L455.58 102.78L455.82 102.72L456.07 102.66L456.32 102.60L456.57 102.54L456.82 102.48L457.07 102.42L457.31 102.36L457.56 102.30L457.81 102.24L458.06 102.18L458.31 102.12L458.56 102.06L458.80 102.00L459.05 101.94L459.30 101.88L459.55 101.82L459.80 101.76L460.05 101.70L460.29 101.64L460.54 101.58L460.79 101.52L461.04 101.46L461.29 101.40L461.54 101.34M474.42 98.38L474.58 98.34L474.75 98.31L474.92 98.27L475.08 98.23L475.25 98.20L475.42 98.16L475.58 98.12L475.75 98.09L475.92 98.05L476.08 98.02L476.25 97.98L476.42 97.94L476.59 97.91L476.75 97.87L476.92 97.84M488.16 95.54L488.33 95.51L488.50 95.48L488.67 95.45L488.84 95.41L489.01 95.38L489.18 95.35L489.34 95.32L489.51 95.28L489.68 95.25L489.85 95.22L490.02 95.19L490.19 95.15L490.36 95.12L490.52 95.09L490.69 95.06L490.86 95.03L491.03 94.99L491.20 94.96L491.37 94.93L491.54 94.90L491.70 94.87L491.87 94.83L492.04 94.80L492.21 94.77L492.38 94.74L492.55 94.71L492.72 94.68L492.89 94.64L493.06 94.61L493.22 94.58L493.39 94.55L493.56 94.52L493.73 94.49L493.90 94.46L494.07 94.42L494.24 94.39L494.41 94.36L494.58 94.33L494.75 94.30L494.91 94.27L495.08 94.24L495.25 94.21L495.42 94.17L495.59 94.14L495.76 94.11L495.93 94.08L496.10 94.05L496.27 94.02L496.44 93.99L496.61 93.96L496.78 93.93L496.94 93.90L497.11 93.87L497.28 93.84L497.45 93.81L497.62 93.78L497.79 93.74L497.96 93.71L498.13 93.68L498.30 93.65L498.47 93.62L498.64 93.59L498.81 93.56L498.98 93.53L499.15 93.50L499.31 93.47L499.48 93.44L499.65 93.41L499.82 93.38L499.99 93.35L500.16 93.32L500.33 93.29L500.50 93.26L500.67 93.23L500.84 93.20L501.01 93.17L501.18 93.14L501.35 93.11L501.52 93.08L501.69 93.05L501.86 93.02L502.03 92.99L502.20 92.96L502.37 92.93L502.54 92.90L502.71 92.88L502.88 92.85L503.05 92.82L503.21 92.79L503.38 92.76L503.55 92.73L503.72 92.70L503.89 92.67L504.06 92.64L504.23 92.61L504.40 92.58L504.57 92.55L504.74 92.52M517.84 90.36L518.01 90.33L518.19 90.30L518.36 90.28L518.53 90.25L518.70 90.22L518.87 90.19L519.04 90.17L519.21 90.14L519.38 90.11L519.55 90.09L519.72 90.06L519.89 90.03L520.06 90.00L520.23 89.98M531.49 88.23L531.66 88.20L531.83 88.18L532.01 88.15L532.18 88.13L532.35 88.10L532.52 88.07L532.69 88.05L532.86 88.02L533.03 87.99L533.20 87.97L533.37 87.94L533.54 87.92L533.71 87.89L533.88 87.86L534.05 87.84L534.23 87.81L534.40 87.79L534.57 87.76L534.74 87.74L534.91 87.71L535.08 87.68L535.25 87.66L535.42 87.63L535.59 87.61L535.76 87.58L535.93 87.55L536.10 87.53L536.27 87.50L536.44 87.48L536.62 87.45L536.79 87.42L536.96 87.40L537.13 87.37L537.30 87.35L537.47 87.32L537.64 87.29L537.81 87.27L537.98 87.24L538.15 87.22L538.32 87.19L538.49 87.17L538.66 87.14L538.83 87.11L539.00 87.09L539.18 87.06L539.35 87.04L539.52 87.01L539.69 86.98L539.86 86.96L540.03 86.93L540.20 86.91L540.37 86.88L540.54 86.86L540.71 86.83L540.88 86.80L541.05 86.78L541.22 86.75L541.39 86.73L541.57 86.70L541.74 86.68L541.91 86.65L542.08 86.62L542.25 86.60L542.42 86.57L542.59 86.55L542.76 86.52L542.93 86.49L543.10 86.47L543.27 86.44L543.44 86.42L543.61 86.39L543.78 86.37L543.95 86.34L544.12 86.31L544.30 86.29L544.47 86.26L544.64 86.24L544.81 86.21L544.98 86.19L545.15 86.16L545.32 86.13L545.49 86.11L545.66 86.08L545.83 86.06L546.00 86.03L546.17 86.01L546.34 85.98L546.51 85.95L546.68 85.93L546.85 85.90L547.02 85.88L547.19 85.85L547.37 85.82L547.54 85.80L547.71 85.77L547.88 85.75L548.05 85.72M561.16 83.71L561.33 83.69L561.50 83.66L561.67 83.63L561.84 83.61L562.00 83.58L562.17 83.55L562.34 83.53L562.51 83.50L562.68 83.47L562.85 83.45L563.02 83.42L563.19 83.39L563.36 83.37L563.53 83.34M574.71 81.54L574.88 81.51L575.05 81.48L575.22 81.45L575.39 81.43L575.55 81.40L575.72 81.37L575.89 81.34L576.06 81.31L576.23 81.29L576.40 81.26L576.57 81.23L576.74 81.20L576.91 81.17L577.07 81.14L577.24 81.12L577.41 81.09L577.58 81.06L577.75 81.03L577.92 81.00L578.09 80.98L578.25 80.95L578.42 80.92L578.59 80.89L578.76 80.86L578.93 80.83L579.10 80.81L579.27 80.78L579.43 80.75L579.60 80.72L579.77 80.69L579.94 80.66L580.11 80.64L580.28 80.61L580.45 80.58L580.61 80.55L580.78 80.52L580.95 80.49L581.12 80.46L581.29 80.44L581.46 80.41L581.62 80.38L581.79 80.35L581.96 80.32L582.13 80.29L582.30 80.26L582.47 80.24L582.63 80.21L582.80 80.18L582.97 80.15L583.14 80.12L583.31 80.09L583.48 80.06L583.64 80.04L583.81 80.01L583.98 79.98L584.15 79.95L584.32 79.92L584.48 79.89L584.65 79.86L584.82 79.83L584.99 79.81L585.16 79.78L585.32 79.75L585.49 79.72L585.66 79.69L585.83 79.66L586.00 79.63L586.16 79.60L586.33 79.58L586.50 79.55L586.67 79.52L586.84 79.49L587.00 79.46L587.17 79.43L587.34 79.40L587.51 79.37L587.68 79.34L587.84 79.32L588.01 79.29L588.18 79.26L588.35 79.23L588.51 79.20L588.68 79.17L588.85 79.14L589.02 79.11L589.19 79.08L589.35 79.06L589.52 79.03L589.69 79.00L589.86 78.97L590.02 78.94L590.19 78.91L590.36 78.88L590.53 78.85L590.70 78.82L590.86 78.79L591.03 78.77L591.20 78.74L591.37 78.71M604.48 76.43L604.73 76.38L604.98 76.34L605.23 76.30L605.48 76.25L605.72 76.21L605.97 76.17L606.22 76.12L606.47 76.08L606.72 76.04L606.97 75.99M618.17 74.07L618.41 74.03L618.66 73.99L618.91 73.95L619.16 73.90L619.40 73.86L619.65 73.82L619.90 73.78L620.15 73.74L620.40 73.70L620.64 73.65L620.89 73.61L621.14 73.57L621.39 73.53L621.63 73.49L621.88 73.45L622.13 73.41L622.38 73.36L622.62 73.32L622.87 73.28L623.12 73.24L623.37 73.20L623.61 73.16L623.86 73.12L624.11 73.08L624.36 73.04L624.60 72.99L624.85 72.95L625.10 72.91L625.35 72.87L625.59 72.83L625.84 72.79L626.09 72.75L626.33 72.71L626.58 72.67L626.83 72.63L627.07 72.59L627.32 72.55L627.57 72.51L627.82 72.47L628.06 72.43L628.31 72.39L628.56 72.35L628.80 72.31L629.05 72.27L629.30 72.23L629.54 72.19L629.79 72.15L630.04 72.11L630.28 72.07L630.53 72.03L630.77 71.99L631.02 71.95L631.27 71.91L631.51 71.87L631.76 71.83L632.01 71.79L632.25 71.76L632.50 71.72L632.75 71.68L632.99 71.64L633.24 71.60L633.48 71.56L633.73 71.52L633.98 71.48L634.22 71.45L634.47 71.41L634.71 71.37M647.71 69.44L647.95 69.41L648.20 69.37L648.44 69.34L648.69 69.31L648.93 69.27L649.17 69.24L649.42 69.21L649.66 69.17L649.91 69.14L650.15 69.11M661.34 67.69L661.59 67.67L661.83 67.64L662.07 67.61L662.31 67.58L662.56 67.55L662.80 67.53L663.04 67.50L663.28 67.47L663.53 67.44L663.77 67.42L664.01 67.39L664.25 67.36L664.49 67.34L664.74 67.31L664.98 67.28L665.22 67.26L665.46 67.23L665.71 67.21L665.95 67.18L666.19 67.16L666.43 67.13L666.67 67.11L666.92 67.08L667.16 67.06L667.40 67.03L667.64 67.01L667.88 66.98L668.12 66.96L668.37 66.94L668.61 66.91L668.85 66.89L669.09 66.87L669.33 66.84L669.57 66.82L669.82 66.80L670.06 66.78L670.30 66.76L670.54 66.74L670.78 66.72L671.02 66.70L671.26 66.68L671.50 66.66L671.75 66.64L671.99 66.62L672.23 66.60L672.47 66.58L672.71 66.56L672.95 66.54L673.19 66.53L673.43 66.51L673.67 66.49L673.91 66.48L674.15 66.46L674.40 66.44L674.64 66.43L674.88 66.41L675.12 66.40L675.36 66.39L675.60 66.37L675.84 66.36L676.08 66.35L676.32 66.33L676.56 66.32L676.80 66.31L677.04 66.30L677.28 66.29L677.52 66.28L677.76 66.27L678.00 66.26M691.12 66.65L691.36 66.68L691.59 66.71L691.83 66.74L692.07 66.77L692.30 66.80L692.54 66.83L692.78 66.86L693.01 66.89L693.25 66.92L693.48 66.96M704.74 69.71L704.98 69.79L705.21 69.87L705.44 69.96L705.67 70.05L705.91 70.13L706.14 70.22L706.37 70.31L706.60 70.40L706.84 70.50L707.07 70.59L707.30 70.68L707.53 70.78L707.76 70.88L707.99 70.97L708.23 71.07L708.46 71.17L708.69 71.28L708.92 71.38L709.15 71.48L709.38 71.59L709.61 71.70L709.84 71.80L710.08 71.91L710.31 72.02L710.54 72.14L710.77 72.25L711.00 72.36L711.23 72.48L711.46 72.60L711.69 72.72L711.92 72.84L712.15 72.96L712.38 73.08L712.61 73.20L712.84 73.33L713.07 73.45L713.30 73.58L713.53 73.71L713.76 73.84L713.99 73.97L714.22 74.11L714.45 74.24L714.67 74.38L714.90 74.51L715.13 74.65L715.36 74.79L715.59 74.94L715.82 75.08L716.05 75.22L716.28 75.37L716.50 75.52L716.73 75.66L716.96 75.81L717.19 75.97L717.42 76.12L717.64 76.27L717.87 76.43L718.10 76.59L718.33 76.75L718.55 76.91L718.78 77.07L719.01 77.23L719.24 77.40L719.46 77.56L719.69 77.73L719.92 77.90L720.14 78.07L720.37 78.24L720.60 78.42L720.82 78.59L721.05 78.77L721.28 78.95M733.49 91.24L733.63 91.42L733.78 91.60L733.93 91.79L734.07 91.97L734.22 92.16L734.37 92.35L734.51 92.54L734.66 92.72L734.81 92.91L734.95 93.10L735.10 93.29L735.25 93.49L735.39 93.68L735.54 93.87M743.07 105.16L743.21 105.40L743.35 105.64L743.50 105.89L743.64 106.13L743.78 106.38L743.93 106.62L744.07 106.87L744.21 107.12L744.32 107.31L744.43 107.49L744.53 107.68L744.64 107.87L744.75 108.06L744.85 108.25L744.96 108.44L745.07 108.63L745.17 108.82L745.28 109.01L745.39 109.20L745.50 109.39L745.60 109.59L745.71 109.78L745.82 109.98L745.92 110.17L746.03 110.37L746.13 110.56L746.24 110.76L746.35 110.96L746.45 111.16L746.56 111.35L746.67 111.55L746.77 111.75L746.88 111.95L746.99 112.15L747.09 112.35L747.20 112.55L747.31 112.76L747.41 112.96L747.52 113.16L747.62 113.37L747.73 113.57L747.84 113.78L747.94 113.98L748.05 114.19L748.15 114.39L748.26 114.60L748.37 114.81L748.47 115.02L748.58 115.23L748.68 115.44L748.79 115.65L748.89 115.86L749.00 116.07L749.11 116.28L749.21 116.49L749.32 116.70L749.42 116.92L749.53 117.13L749.63 117.35L749.74 117.56L749.84 117.78L749.95 118.00L750.05 118.21L750.16 118.43L750.27 118.65L750.37 118.87L750.48 119.09L750.58 119.31L750.69 119.53L750.79 119.75L750.90 119.97L751.00 120.19L751.11 120.41L751.21 120.64L751.32 120.86L751.42 121.08L751.53 121.31L751.63 121.53M757.31 134.67L757.39 134.87L757.48 135.07L757.56 135.28L757.64 135.48L757.72 135.68L757.80 135.89L757.89 136.09L757.97 136.30L758.05 136.50L758.13 136.71L758.21 136.91L758.30 137.12M762.59 148.41L762.67 148.63L762.75 148.85L762.83 149.07L762.91 149.29L762.99 149.51L763.07 149.73L763.15 149.95L763.23 150.17L763.31 150.39L763.38 150.62L763.46 150.84L763.54 151.06L763.62 151.28L763.70 151.51L763.78 151.73L763.86 151.95L763.94 152.18L764.02 152.40L764.10 152.62L764.18 152.85L764.26 153.07L764.34 153.30L764.42 153.52L764.50 153.75L764.58 153.97L764.66 154.20L764.74 154.43L764.82 154.65L764.90 154.88L764.97 155.11L765.05 155.33L765.13 155.56L765.21 155.79L765.29 156.01L765.37 156.24L765.45 156.47L765.53 156.70L765.61 156.93L765.69 157.15L765.76 157.38L765.84 157.61L765.92 157.84L766.00 158.07L766.08 158.30L766.16 158.53L766.24 158.76L766.31 158.99L766.39 159.22L766.47 159.45L766.55 159.68L766.63 159.91L766.71 160.14L766.79 160.38L766.86 160.61L766.94 160.84L767.02 161.07L767.10 161.30L767.18 161.54L767.26 161.77L767.33 162.00L767.41 162.23L767.49 162.47L767.57 162.70L767.65 162.93L767.72 163.17L767.80 163.40L767.88 163.64L767.96 163.87L768.03 164.10L768.11 164.34L768.19 164.57L768.27 164.81M772.48 178.00L772.56 178.25L772.63 178.49L772.71 178.74L772.79 178.98L772.86 179.22L772.94 179.47L773.01 179.71L773.09 179.96L773.16 180.21L773.24 180.45M776.60 191.71L776.67 191.92L776.73 192.13L776.79 192.34L776.85 192.55L776.91 192.75L776.97 192.96L777.03 193.17L777.09 193.38L777.15 193.59L777.21 193.80L777.27 194.01L777.34 194.22L777.40 194.43L777.46 194.64L777.52 194.85L777.58 195.06L777.64 195.27L777.70 195.48L777.76 195.69L777.82 195.90L777.88 196.11L777.94 196.32L778.00 196.53L778.06 196.74L778.12 196.95L778.18 197.17L778.24 197.38L778.30 197.59L778.36 197.80L778.42 198.01L778.48 198.22L778.54 198.43L778.60 198.64L778.66 198.85L778.72 199.06L778.78 199.28L778.84 199.49L778.90 199.70L778.96 199.91L779.02 200.12L779.08 200.33L779.14 200.54L779.20 200.75L779.26 200.97L779.32 201.18L779.38 201.39L779.44 201.60L779.50 201.81L779.56 202.02L779.62 202.24L779.68 202.45L779.74 202.66L779.80 202.87L779.86 203.08L779.92 203.30L779.98 203.51L780.04 203.72L780.10 203.93L780.16 204.15L780.21 204.36L780.27 204.57L780.33 204.78L780.39 205.00L780.45 205.21L780.51 205.42L780.57 205.63L780.63 205.85L780.69 206.06L780.75 206.27L780.81 206.48L780.86 206.70L780.92 206.91L780.98 207.12L781.04 207.33L781.10 207.55L781.16 207.76L781.22 207.97L781.28 208.19M784.79 221.22L784.85 221.44L784.91 221.65L784.96 221.87L785.02 222.08L785.07 222.29L785.13 222.51L785.19 222.72L785.24 222.94L785.30 223.15L785.36 223.36L785.41 223.58L785.47 223.79M788.34 234.92L788.40 235.13L788.45 235.35L788.50 235.56L788.56 235.77L788.61 235.99L788.67 236.20L788.72 236.41L788.77 236.63L788.83 236.84L788.88 237.05L788.94 237.27L788.99 237.48L789.04 237.69L789.10 237.91L789.15 238.12L789.21 238.33L789.26 238.55L789.31 238.76L789.37 238.97L789.42 239.19L789.47 239.40L789.53 239.61L789.58 239.82L789.63 240.04L789.69 240.25L789.74 240.46L789.79 240.68L789.85 240.89L789.90 241.10L789.95 241.31L790.01 241.53L790.06 241.74L790.11 241.95L790.17 242.16L790.22 242.38L790.27 242.59L790.32 242.80L790.38 243.01L790.43 243.23L790.48 243.44L790.54 243.65L790.59 243.86L790.64 244.07L790.69 244.29L790.75 244.50L790.80 244.71L790.85 244.92L790.90 245.13L790.96 245.35L791.01 245.56L791.06 245.77L791.11 245.98L791.17 246.19L791.22 246.40L791.27 246.62L791.32 246.83L791.38 247.04L791.43 247.25L791.48 247.46L791.53 247.67L791.58 247.88L791.64 248.10L791.69 248.31L791.74 248.52L791.79 248.73L791.84 248.94L791.89 249.15L791.95 249.36L792.00 249.57L792.05 249.78L792.10 249.99L792.15 250.21L792.20 250.42L792.26 250.63L792.31 250.84L792.36 251.05L792.41 251.26L792.46 251.47M795.61 264.58L795.67 264.83L795.73 265.07L795.79 265.32L795.85 265.57L795.90 265.81L795.96 266.06L796.02 266.30L796.08 266.55L796.14 266.80L796.19 267.04M798.79 278.18L798.84 278.42L798.90 278.66L798.95 278.89L799.01 279.13L799.06 279.37L799.12 279.61L799.17 279.84L799.23 280.08L799.28 280.32L799.34 280.55L799.39 280.79L799.44 281.03L799.50 281.26L799.55 281.50L799.61 281.74L799.66 281.97L799.71 282.21L799.77 282.44L799.82 282.68L799.88 282.91L799.93 283.15L799.98 283.38L800.04 283.62L800.09 283.85L800.14 284.08L800.20 284.32L800.25 284.55L800.30 284.79L800.36 285.02L800.41 285.25L800.46 285.48L800.52 285.72L800.57 285.95L800.62 286.18L800.67 286.41L800.73 286.65L800.78 286.88L800.83 287.11L800.88 287.34L800.94 287.57L800.99 287.80L801.04 288.03L801.09 288.26L801.15 288.49L801.20 288.72L801.25 288.95L801.30 289.18L801.35 289.41L801.41 289.64L801.46 289.87L801.51 290.10L801.56 290.33L801.61 290.56L801.66 290.79L801.71 291.01L801.77 291.24L801.82 291.47L801.87 291.70L801.92 291.92L801.97 292.15L802.02 292.38L802.07 292.60L802.12 292.83L802.17 293.06L802.22 293.28L802.28 293.51L802.33 293.73L802.38 293.96L802.43 294.18L802.48 294.41L802.53 294.63M805.46 307.86L805.51 308.07L805.56 308.28L805.60 308.49L805.65 308.70L805.69 308.90L805.74 309.11L805.78 309.32L805.83 309.53L805.87 309.73L805.92 309.94L805.97 310.15L806.01 310.35M808.43 321.45L808.48 321.68L808.53 321.92L808.58 322.15L808.63 322.39L808.68 322.62L808.74 322.85L808.79 323.09L808.84 323.32L808.89 323.55L808.94 323.78L808.99 324.01L809.04 324.24L809.09 324.47L809.13 324.69L809.18 324.92L809.23 325.15L809.28 325.38L809.33 325.60L809.38 325.83L809.43 326.05L809.48 326.28L809.53 326.50L809.58 326.73L809.62 326.95L809.67 327.17L809.72 327.39L809.77 327.62L809.82 327.84L809.86 328.06L809.91 328.28L809.96 328.50L810.01 328.71L810.05 328.93L810.10 329.15L810.15 329.37L810.19 329.58L810.24 329.80L810.29 330.01L810.33 330.23L810.38 330.44L810.43 330.66L810.47 330.87L810.52 331.08L810.56 331.29L810.61 331.50L810.65 331.72L810.70 331.93L810.75 332.14L810.79 332.34L810.84 332.55L810.88 332.76L810.93 332.97L810.97 333.17L811.02 333.38L811.06 333.59L811.10 333.79L811.15 334.00L811.19 334.20L811.24 334.40L811.28 334.61L811.32 334.81L811.37 335.01L811.41 335.21L811.45 335.41L811.50 335.61L811.54 335.81L811.58 336.01L811.63 336.21L811.67 336.41L811.71 336.60L811.76 336.80L811.80 337.00L811.84 337.19L811.88 337.39L811.92 337.58L811.97 337.78L812.01 337.97M814.88 351.23L814.92 351.44L814.97 351.64L815.01 351.85L815.05 352.05L815.10 352.25L815.14 352.45L815.18 352.65L815.23 352.85L815.27 353.04L815.31 353.24L815.36 353.44L815.40 353.63M817.83 364.88L817.88 365.09L817.92 365.30L817.97 365.51L818.01 365.72L818.06 365.93L818.10 366.13L818.15 366.34L818.19 366.54L818.23 366.74L818.28 366.94L818.32 367.13L818.36 367.33L818.40 367.52L818.45 367.72L818.49 367.91L818.53 368.10L818.57 368.28L818.61 368.47L818.65 368.65L818.69 368.84L818.73 369.02L818.77 369.20L818.80 369.38L818.84 369.56L818.88 369.73L818.92 369.91L818.96 370.08L818.99 370.25L819.03 370.42L819.07 370.59L819.10 370.76L819.14 370.92L819.17 371.09L819.21 371.25L819.24 371.41L819.28 371.57L819.31 371.73L819.35 371.89L819.38 372.04L819.41 372.20L819.45 372.35L819.48 372.50L819.51 372.65L819.55 372.80L819.58 372.95L819.61 373.09L819.64 373.24L819.67 373.38L819.70 373.53L819.73 373.67L819.76 373.81L819.79 373.94L819.82 374.08L819.85 374.22L819.88 374.35L819.91 374.49L819.94 374.62L819.97 374.75L820.00 374.88L820.02 375.01L820.05 375.13L820.08 375.26L820.13 375.51L820.18 375.75L820.24 375.99L820.29 376.22L820.34 376.45L820.38 376.67L820.43 376.89L820.48 377.11L820.52 377.32L820.57 377.52L820.61 377.72L820.65 377.92L820.69 378.11L820.74 378.30L820.77 378.48L820.81 378.66L820.85 378.84L820.89 379.01L820.92 379.17L820.96 379.34L820.99 379.50L821.03 379.65L821.06 379.80L821.09 379.95L821.12 380.09L821.15 380.23L821.18 380.37L821.21 380.50L821.24 380.63L821.27 380.75L821.29 380.88L821.32 380.99L821.34 381.11L821.37 381.22L821.39 381.33" fill="none" stroke="#000" stroke-width="4.2" stroke-linecap="round" stroke-linejoin="round"/>
<g><path d="M261.80 102.60L281.40 102.60L271.60 118.90Z" class="mk tr"/><path d="M374.10 118.70L393.70 118.70L383.90 135.00Z" class="mk tr"/><path d="M464.30 90.00L483.90 90.00L474.10 106.30Z" class="mk tr"/><path d="M561.40 77.90L581.00 77.90L571.20 94.20Z" class="mk tr"/><path d="M654.20 59.20L673.80 59.20L664.00 75.50Z" class="mk tr"/><path d="M742.70 57.55L762.30 57.55L752.50 73.85Z" class="mk tr"/><path d="M812.10 378.25L831.70 378.25L821.90 394.55Z" class="mk tr"/></g>
<rect x="195.2" y="473.7" width="574.8" height="92.9" fill="#000"/>
<rect x="187.4" y="466.7" width="574.6" height="91.5" fill="#fff" stroke="#000" stroke-width="1.6"/>
<g fill="none" stroke="#000" stroke-width="4.2" stroke-linecap="round">
<line x1="208.2" y1="495" x2="268" y2="495"/>
<line x1="208.05" y1="527.4" x2="211.05" y2="527.4"/>
<line x1="230" y1="527.4" x2="232" y2="527.4"/>
<line x1="250.15" y1="527.4" x2="252.35" y2="527.4"/>
<line x1="487.2" y1="494.8" x2="501.4" y2="494.8"/>
<line x1="526.4" y1="494.8" x2="535.4" y2="494.8"/>
<line x1="487.2" y1="527.1" x2="504.1" y2="527.1"/>
<line x1="530.3" y1="527.1" x2="544.1" y2="527.1"/>
</g>
<rect x="230.60" y="488.50" width="15.00" height="15.00" class="mk"/><path d="M238.20 517.38L246.90 533.68L229.50 533.68Z" class="mk" style="stroke-width:1.9"/><circle cx="515.30" cy="496.00" r="8.55" class="mk"/><path d="M506.80 521.57L525.20 521.57L516.00 537.87Z" class="mk tr"/>
<g fill="#000">
<text x="0" y="603.30" font-size="37.5" transform="translate(107.44 0) scale(0.969 1)">0</text>
<text x="0" y="496.38" font-size="37.5" transform="translate(87.23 0) scale(0.969 1)">2</text><text x="0" y="496.38" font-size="37.5" transform="translate(107.44 0) scale(0.969 1)">0</text>
<text x="0" y="389.46" font-size="37.5" transform="translate(87.23 0) scale(0.969 1)">4</text><text x="0" y="389.46" font-size="37.5" transform="translate(107.44 0) scale(0.969 1)">0</text>
<text x="0" y="282.54" font-size="37.5" transform="translate(87.23 0) scale(0.969 1)">6</text><text x="0" y="282.54" font-size="37.5" transform="translate(107.44 0) scale(0.969 1)">0</text>
<text x="0" y="175.62" font-size="37.5" transform="translate(87.23 0) scale(0.969 1)">8</text><text x="0" y="175.62" font-size="37.5" transform="translate(107.44 0) scale(0.969 1)">0</text>
<path d="M763 0H583V1147Q518 1085 412.5 1023.0Q307 961 223 930V1104Q374 1175 487.0 1276.0Q600 1377 647 1472H763Z" transform="translate(67.02 68.70) scale(0.01774 -0.01831)"/><text x="0" y="68.70" font-size="37.5" transform="translate(87.23 0) scale(0.969 1)">0</text><text x="0" y="68.70" font-size="37.5" transform="translate(107.44 0) scale(0.969 1)">0</text>
<text x="0" y="640.55" font-size="37.5" transform="translate(133.21 0) scale(0.987 1)">2</text>
<text x="0" y="640.55" font-size="37.5" transform="translate(304.78 0) scale(0.987 1)">4</text>
<text x="0" y="640.55" font-size="37.5" transform="translate(476.48 0) scale(0.987 1)">6</text>
<text x="0" y="640.55" font-size="37.5" transform="translate(648.11 0) scale(0.987 1)">8</text>
<path d="M763 0H583V1147Q518 1085 412.5 1023.0Q307 961 223 930V1104Q374 1175 487.0 1276.0Q600 1377 647 1472H763Z" transform="translate(808.37 640.55) scale(0.01807 -0.01831)"/><text x="0" y="640.55" font-size="37.5" transform="translate(828.96 0) scale(0.987 1)">0</text>
<path d="M763 0H583V1147Q518 1085 412.5 1023.0Q307 961 223 930V1104Q374 1175 487.0 1276.0Q600 1377 647 1472H763Z" transform="translate(980.03 640.55) scale(0.01807 -0.01831)"/><text x="0" y="640.55" font-size="37.5" transform="translate(1000.62 0) scale(0.987 1)">2</text>
<text x="572.5" y="695.1" font-size="38.5" text-anchor="middle">pH</text>
<text transform="translate(33.5 290) rotate(-90) scale(0.993 1)" font-size="41" text-anchor="middle">Biomass Recovery %</text>
<text x="274" y="504" font-size="26.5">Streptomyces</text>
<text x="275.5" y="536.2" font-size="26.5">Penicilium</text>
<text x="551.5" y="503.8" font-size="26.5">Saccharomyces</text>
<text x="551.5" y="535.6" font-size="26.5">Grape Stalks</text>
</g>
</svg>
</body></html>
